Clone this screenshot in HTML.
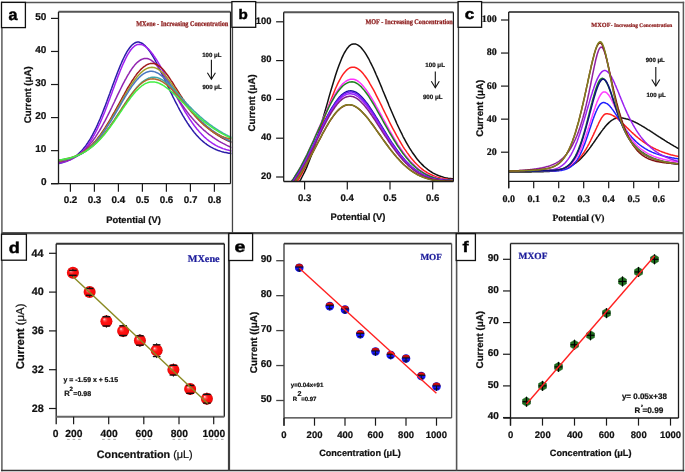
<!DOCTYPE html><html><head><meta charset="utf-8"><style>html,body{margin:0;padding:0;background:#fff;overflow:hidden;}svg{display:block;} text{text-rendering:geometricPrecision;}</style></head><body><svg width="685" height="472" viewBox="0 0 685 472" style="will-change:transform">
<defs>
<radialGradient id="rg" cx="0.5" cy="0.5" r="0.5" fx="0.3" fy="0.32"><stop offset="0" stop-color="#ffe0e0"/><stop offset="0.22" stop-color="#ff5050"/><stop offset="0.45" stop-color="#ff1414"/><stop offset="0.9" stop-color="#f80808"/><stop offset="1" stop-color="#c00000"/></radialGradient>
<clipPath id="cpa"><rect x="58.5" y="11.8" width="173" height="172.1"/></clipPath>
<clipPath id="cpb"><rect x="283.6" y="12.2" width="169.7" height="169.4"/></clipPath>
<clipPath id="cpc"><rect x="508.7" y="12" width="170.1" height="169.4"/></clipPath>
</defs>
<rect width="685" height="472" fill="#fff"/>
<line x1="1.10" y1="2.60" x2="684.20" y2="2.60" stroke="#555" stroke-width="1.5"/>
<line x1="1.90" y1="1.85" x2="1.90" y2="471.25" stroke="#666" stroke-width="1.6"/>
<line x1="683.40" y1="1.85" x2="683.40" y2="471.25" stroke="#5a5a5a" stroke-width="1.5"/>
<line x1="1.10" y1="470.50" x2="684.20" y2="470.50" stroke="#333" stroke-width="1.5"/>
<line x1="1.70" y1="233.10" x2="683.50" y2="233.10" stroke="#555" stroke-width="2.2"/>
<line x1="232.46" y1="2.60" x2="232.46" y2="233.10" stroke="#444" stroke-width="1.3"/>
<line x1="458.46" y1="2.60" x2="458.46" y2="233.10" stroke="#444" stroke-width="1.3"/>
<line x1="229.00" y1="233.10" x2="229.00" y2="470.50" stroke="#404040" stroke-width="2.2"/>
<line x1="456.60" y1="233.10" x2="456.60" y2="470.50" stroke="#555" stroke-width="1.6"/>
<rect x="1.50" y="2.40" width="23.90" height="25.20" fill="#fff" stroke="#111" stroke-width="1.3"/>
<text transform="translate(8.57,20.29) scale(1.002,1)" font-family="Liberation Sans" font-weight="bold" font-size="16.00" fill="#000" stroke="#000" stroke-width="0.50">a</text>
<rect x="231.90" y="1.60" width="23.80" height="25.70" fill="#fff" stroke="#111" stroke-width="1.3"/>
<text transform="translate(238.49,19.01) scale(1.110,1)" font-family="Liberation Sans" font-weight="bold" font-size="13.70" fill="#000" stroke="#000" stroke-width="0.45">b</text>
<rect x="458.10" y="1.60" width="23.50" height="25.70" fill="#fff" stroke="#111" stroke-width="1.3"/>
<text transform="translate(464.76,19.30) scale(1.164,1)" font-family="Liberation Sans" font-weight="bold" font-size="14.73" fill="#000" stroke="#000" stroke-width="0.43">c</text>
<rect x="1.50" y="234.20" width="24.90" height="26.00" fill="#fff" stroke="#111" stroke-width="1.3"/>
<text transform="translate(8.73,252.60) scale(1.165,1)" font-family="Liberation Sans" font-weight="bold" font-size="15.48" fill="#000" stroke="#000" stroke-width="0.43">d</text>
<rect x="228.80" y="233.50" width="23.80" height="27.00" fill="#fff" stroke="#111" stroke-width="1.3"/>
<text transform="translate(234.57,252.49) scale(1.224,1)" font-family="Liberation Sans" font-weight="bold" font-size="16.00" fill="#000" stroke="#000" stroke-width="0.41">e</text>
<rect x="456.20" y="233.70" width="19.20" height="26.80" fill="#fff" stroke="#111" stroke-width="1.3"/>
<text transform="translate(462.39,252.25) scale(1.186,1)" font-family="Liberation Sans" font-weight="bold" font-size="15.28" fill="#000" stroke="#000" stroke-width="0.42">f</text>
<g clip-path="url(#cpa)">
<path d="M57.9,163.7 58.9,163.5 59.8,163.3 60.8,163.1 61.8,162.8 62.7,162.5 63.7,162.2 64.6,161.9 65.6,161.6 66.6,161.2 67.5,160.8 68.5,160.4 69.4,160.0 70.4,159.5 71.4,159.0 72.3,158.4 73.3,157.8 74.2,157.2 75.2,156.5 76.2,155.8 77.1,155.0 78.1,154.2 79.0,153.3 80.0,152.4 81.0,151.4 81.9,150.4 82.9,149.3 83.8,148.1 84.8,146.9 85.8,145.7 86.7,144.3 87.7,142.9 88.6,141.4 89.6,139.9 90.6,138.3 91.5,136.6 92.5,134.9 93.4,133.0 94.4,131.2 95.4,129.2 96.3,127.2 97.3,125.1 98.2,123.0 99.2,120.8 100.2,118.5 101.1,116.2 102.1,113.8 103.0,111.4 104.0,108.9 105.0,106.4 105.9,103.9 106.9,101.3 107.8,98.7 108.8,96.1 109.8,93.5 110.7,90.8 111.7,88.2 112.6,85.6 113.6,82.9 114.6,80.3 115.5,77.8 116.5,75.2 117.4,72.7 118.4,70.3 119.4,67.9 120.3,65.5 121.3,63.3 122.2,61.1 123.2,59.0 124.2,57.0 125.1,55.1 126.1,53.3 127.0,51.7 128.0,50.1 129.0,48.7 129.9,47.4 130.9,46.2 131.8,45.2 132.8,44.3 133.8,43.6 134.7,43.0 135.7,42.5 136.6,42.2 137.6,42.1 138.6,42.1 139.5,42.3 140.5,42.6 141.4,43.0 142.4,43.5 143.4,44.2 144.3,45.0 145.3,45.9 146.2,46.9 147.2,48.0 148.2,49.2 149.1,50.5 150.1,51.9 151.0,53.4 152.0,54.9 153.0,56.5 153.9,58.2 154.9,59.9 155.8,61.7 156.8,63.5 157.8,65.4 158.7,67.3 159.7,69.2 160.6,71.1 161.6,73.1 162.6,75.1 163.5,77.1 164.5,79.1 165.4,81.1 166.4,83.1 167.4,85.1 168.3,87.1 169.3,89.1 170.2,91.1 171.2,93.1 172.2,95.1 173.1,97.1 174.1,99.0 175.0,100.9 176.0,102.8 177.0,104.7 177.9,106.5 178.9,108.3 179.8,110.1 180.8,111.9 181.8,113.6 182.7,115.3 183.7,116.9 184.6,118.5 185.6,120.1 186.6,121.6 187.5,123.1 188.5,124.5 189.4,126.0 190.4,127.3 191.4,128.6 192.3,129.9 193.3,131.2 194.2,132.4 195.2,133.5 196.2,134.7 197.1,135.7 198.1,136.8 199.0,137.8 200.0,138.7 201.0,139.7 201.9,140.5 202.9,141.4 203.8,142.2 204.8,143.0 205.8,143.7 206.7,144.4 207.7,145.1 208.6,145.7 209.6,146.3 210.6,146.9 211.5,147.4 212.5,147.9 213.4,148.4 214.4,148.9 215.4,149.3 216.3,149.7 217.3,150.1 218.2,150.5 219.2,150.8 220.2,151.1 221.1,151.4 222.1,151.7 223.0,151.9 224.0,152.2 225.0,152.4 225.9,152.6 226.9,152.8 227.8,153.0 228.8,153.2 229.8,153.3 230.7,153.5 231.7,153.6" fill="none" stroke="#2b1ca8" stroke-width="1.5" stroke-linejoin="round"/>
<path d="M57.9,163.3 58.9,163.1 59.8,162.9 60.8,162.7 61.8,162.5 62.7,162.3 63.7,162.1 64.6,161.8 65.6,161.5 66.6,161.2 67.5,160.9 68.5,160.5 69.4,160.1 70.4,159.7 71.4,159.3 72.3,158.8 73.3,158.3 74.2,157.8 75.2,157.2 76.2,156.5 77.1,155.9 78.1,155.2 79.0,154.4 80.0,153.6 81.0,152.8 81.9,151.9 82.9,150.9 83.8,149.9 84.8,148.8 85.8,147.7 86.7,146.5 87.7,145.2 88.6,143.9 89.6,142.5 90.6,141.0 91.5,139.5 92.5,137.9 93.4,136.2 94.4,134.5 95.4,132.7 96.3,130.8 97.3,128.9 98.2,126.9 99.2,124.8 100.2,122.7 101.1,120.5 102.1,118.2 103.0,115.9 104.0,113.6 105.0,111.2 105.9,108.7 106.9,106.2 107.8,103.7 108.8,101.1 109.8,98.6 110.7,96.0 111.7,93.4 112.6,90.8 113.6,88.2 114.6,85.5 115.5,83.0 116.5,80.4 117.4,77.9 118.4,75.4 119.4,72.9 120.3,70.5 121.3,68.2 122.2,65.9 123.2,63.7 124.2,61.6 125.1,59.6 126.1,57.7 127.0,55.9 128.0,54.2 129.0,52.6 129.9,51.2 130.9,49.8 131.8,48.7 132.8,47.6 133.8,46.7 134.7,45.9 135.7,45.3 136.6,44.8 137.6,44.5 138.6,44.4 139.5,44.3 140.5,44.4 141.4,44.6 142.4,44.9 143.4,45.3 144.3,45.8 145.3,46.5 146.2,47.2 147.2,48.0 148.2,48.9 149.1,49.8 150.1,50.9 151.0,52.0 152.0,53.3 153.0,54.5 153.9,55.9 154.9,57.3 155.8,58.7 156.8,60.2 157.8,61.8 158.7,63.4 159.7,65.0 160.6,66.7 161.6,68.4 162.6,70.1 163.5,71.9 164.5,73.6 165.4,75.4 166.4,77.2 167.4,79.1 168.3,80.9 169.3,82.7 170.2,84.6 171.2,86.4 172.2,88.3 173.1,90.1 174.1,91.9 175.0,93.7 176.0,95.6 177.0,97.3 177.9,99.1 178.9,100.9 179.8,102.6 180.8,104.4 181.8,106.1 182.7,107.7 183.7,109.4 184.6,111.0 185.6,112.6 186.6,114.2 187.5,115.7 188.5,117.2 189.4,118.7 190.4,120.1 191.4,121.5 192.3,122.9 193.3,124.2 194.2,125.5 195.2,126.8 196.2,128.0 197.1,129.2 198.1,130.3 199.0,131.4 200.0,132.5 201.0,133.5 201.9,134.6 202.9,135.5 203.8,136.5 204.8,137.4 205.8,138.2 206.7,139.0 207.7,139.8 208.6,140.6 209.6,141.3 210.6,142.0 211.5,142.7 212.5,143.3 213.4,143.9 214.4,144.5 215.4,145.1 216.3,145.6 217.3,146.1 218.2,146.6 219.2,147.0 220.2,147.4 221.1,147.8 222.1,148.2 223.0,148.6 224.0,148.9 225.0,149.2 225.9,149.5 226.9,149.8 227.8,150.0 228.8,150.3 229.8,150.5 230.7,150.7 231.7,150.9" fill="none" stroke="#a020f0" stroke-width="1.5" stroke-linejoin="round"/>
<path d="M57.9,162.5 58.9,162.3 59.8,162.1 60.8,162.0 61.8,161.8 62.7,161.6 63.7,161.3 64.6,161.1 65.6,160.8 66.6,160.5 67.5,160.2 68.5,159.9 69.4,159.6 70.4,159.2 71.4,158.8 72.3,158.4 73.3,157.9 74.2,157.4 75.2,156.9 76.2,156.4 77.1,155.8 78.1,155.2 79.0,154.5 80.0,153.8 81.0,153.1 81.9,152.4 82.9,151.6 83.8,150.7 84.8,149.8 85.8,148.9 86.7,147.9 87.7,146.9 88.6,145.9 89.6,144.7 90.6,143.6 91.5,142.4 92.5,141.2 93.4,139.9 94.4,138.5 95.4,137.1 96.3,135.7 97.3,134.2 98.2,132.7 99.2,131.2 100.2,129.5 101.1,127.9 102.1,126.2 103.0,124.5 104.0,122.7 105.0,120.9 105.9,119.1 106.9,117.2 107.8,115.3 108.8,113.4 109.8,111.4 110.7,109.5 111.7,107.5 112.6,105.5 113.6,103.5 114.6,101.5 115.5,99.4 116.5,97.4 117.4,95.4 118.4,93.4 119.4,91.4 120.3,89.5 121.3,87.5 122.2,85.6 123.2,83.7 124.2,81.8 125.1,80.0 126.1,78.3 127.0,76.6 128.0,74.9 129.0,73.3 129.9,71.7 130.9,70.3 131.8,68.9 132.8,67.5 133.8,66.3 134.7,65.1 135.7,64.0 136.6,63.0 137.6,62.1 138.6,61.3 139.5,60.6 140.5,60.0 141.4,59.5 142.4,59.1 143.4,58.7 144.3,58.5 145.3,58.4 146.2,58.4 147.2,58.5 148.2,58.8 149.1,59.1 150.1,59.6 151.0,60.1 152.0,60.8 153.0,61.6 153.9,62.4 154.9,63.4 155.8,64.4 156.8,65.5 157.8,66.7 158.7,68.0 159.7,69.3 160.6,70.7 161.6,72.1 162.6,73.6 163.5,75.1 164.5,76.6 165.4,78.2 166.4,79.7 167.4,81.3 168.3,82.9 169.3,84.5 170.2,86.1 171.2,87.7 172.2,89.3 173.1,90.9 174.1,92.5 175.0,94.0 176.0,95.6 177.0,97.1 177.9,98.6 178.9,100.1 179.8,101.6 180.8,103.0 181.8,104.4 182.7,105.8 183.7,107.2 184.6,108.5 185.6,109.8 186.6,111.1 187.5,112.4 188.5,113.6 189.4,114.9 190.4,116.0 191.4,117.2 192.3,118.3 193.3,119.4 194.2,120.5 195.2,121.6 196.2,122.6 197.1,123.6 198.1,124.6 199.0,125.6 200.0,126.5 201.0,127.4 201.9,128.3 202.9,129.2 203.8,130.1 204.8,130.9 205.8,131.7 206.7,132.5 207.7,133.3 208.6,134.1 209.6,134.8 210.6,135.5 211.5,136.2 212.5,136.9 213.4,137.6 214.4,138.2 215.4,138.9 216.3,139.5 217.3,140.1 218.2,140.7 219.2,141.3 220.2,141.8 221.1,142.4 222.1,142.9 223.0,143.4 224.0,143.9 225.0,144.4 225.9,144.9 226.9,145.4 227.8,145.8 228.8,146.3 229.8,146.7 230.7,147.2 231.7,147.6" fill="none" stroke="#9326b0" stroke-width="1.5" stroke-linejoin="round"/>
<path d="M57.9,161.4 58.9,161.3 59.8,161.1 60.8,161.0 61.8,160.8 62.7,160.6 63.7,160.4 64.6,160.2 65.6,160.0 66.6,159.8 67.5,159.5 68.5,159.2 69.4,158.9 70.4,158.6 71.4,158.3 72.3,157.9 73.3,157.6 74.2,157.2 75.2,156.7 76.2,156.3 77.1,155.8 78.1,155.3 79.0,154.8 80.0,154.3 81.0,153.7 81.9,153.1 82.9,152.4 83.8,151.8 84.8,151.1 85.8,150.3 86.7,149.5 87.7,148.7 88.6,147.9 89.6,147.0 90.6,146.1 91.5,145.2 92.5,144.2 93.4,143.2 94.4,142.1 95.4,141.0 96.3,139.9 97.3,138.7 98.2,137.5 99.2,136.2 100.2,134.9 101.1,133.6 102.1,132.2 103.0,130.9 104.0,129.4 105.0,128.0 105.9,126.5 106.9,124.9 107.8,123.4 108.8,121.8 109.8,120.2 110.7,118.6 111.7,116.9 112.6,115.2 113.6,113.5 114.6,111.8 115.5,110.1 116.5,108.3 117.4,106.6 118.4,104.8 119.4,103.0 120.3,101.3 121.3,99.5 122.2,97.8 123.2,96.0 124.2,94.3 125.1,92.6 126.1,90.9 127.0,89.2 128.0,87.5 129.0,85.9 129.9,84.3 130.9,82.8 131.8,81.2 132.8,79.8 133.8,78.3 134.7,76.9 135.7,75.6 136.6,74.3 137.6,73.1 138.6,72.0 139.5,70.9 140.5,69.8 141.4,68.9 142.4,68.0 143.4,67.2 144.3,66.4 145.3,65.8 146.2,65.2 147.2,64.7 148.2,64.2 149.1,63.9 150.1,63.6 151.0,63.5 152.0,63.4 153.0,63.4 153.9,63.5 154.9,63.7 155.8,64.0 156.8,64.5 157.8,65.0 158.7,65.6 159.7,66.3 160.6,67.1 161.6,68.0 162.6,69.0 163.5,70.1 164.5,71.2 165.4,72.4 166.4,73.7 167.4,75.0 168.3,76.3 169.3,77.7 170.2,79.1 171.2,80.6 172.2,82.0 173.1,83.5 174.1,85.1 175.0,86.6 176.0,88.1 177.0,89.6 177.9,91.1 178.9,92.7 179.8,94.2 180.8,95.7 181.8,97.1 182.7,98.6 183.7,100.0 184.6,101.5 185.6,102.9 186.6,104.2 187.5,105.6 188.5,106.9 189.4,108.2 190.4,109.5 191.4,110.8 192.3,112.0 193.3,113.2 194.2,114.3 195.2,115.5 196.2,116.6 197.1,117.7 198.1,118.7 199.0,119.8 200.0,120.8 201.0,121.8 201.9,122.7 202.9,123.6 203.8,124.6 204.8,125.4 205.8,126.3 206.7,127.1 207.7,127.9 208.6,128.7 209.6,129.5 210.6,130.2 211.5,131.0 212.5,131.7 213.4,132.4 214.4,133.0 215.4,133.7 216.3,134.3 217.3,135.0 218.2,135.6 219.2,136.1 220.2,136.7 221.1,137.3 222.1,137.8 223.0,138.3 224.0,138.8 225.0,139.3 225.9,139.8 226.9,140.3 227.8,140.7 228.8,141.2 229.8,141.6 230.7,142.1 231.7,142.5" fill="none" stroke="#a01a1a" stroke-width="1.5" stroke-linejoin="round"/>
<path d="M57.9,161.1 58.9,161.0 59.8,160.8 60.8,160.7 61.8,160.5 62.7,160.3 63.7,160.2 64.6,160.0 65.6,159.8 66.6,159.5 67.5,159.3 68.5,159.0 69.4,158.7 70.4,158.5 71.4,158.1 72.3,157.8 73.3,157.5 74.2,157.1 75.2,156.7 76.2,156.3 77.1,155.8 78.1,155.3 79.0,154.8 80.0,154.3 81.0,153.8 81.9,153.2 82.9,152.6 83.8,151.9 84.8,151.3 85.8,150.6 86.7,149.8 87.7,149.1 88.6,148.3 89.6,147.4 90.6,146.6 91.5,145.6 92.5,144.7 93.4,143.7 94.4,142.7 95.4,141.6 96.3,140.6 97.3,139.4 98.2,138.3 99.2,137.1 100.2,135.8 101.1,134.6 102.1,133.2 103.0,131.9 104.0,130.5 105.0,129.1 105.9,127.7 106.9,126.2 107.8,124.7 108.8,123.2 109.8,121.6 110.7,120.0 111.7,118.4 112.6,116.8 113.6,115.2 114.6,113.5 115.5,111.8 116.5,110.2 117.4,108.5 118.4,106.8 119.4,105.1 120.3,103.4 121.3,101.7 122.2,100.0 123.2,98.3 124.2,96.6 125.1,95.0 126.1,93.3 127.0,91.7 128.0,90.1 129.0,88.6 129.9,87.0 130.9,85.5 131.8,84.1 132.8,82.7 133.8,81.3 134.7,80.0 135.7,78.7 136.6,77.5 137.6,76.3 138.6,75.2 139.5,74.2 140.5,73.2 141.4,72.3 142.4,71.5 143.4,70.7 144.3,70.0 145.3,69.4 146.2,68.9 147.2,68.4 148.2,68.0 149.1,67.7 150.1,67.5 151.0,67.4 152.0,67.3 153.0,67.4 153.9,67.5 154.9,67.8 155.8,68.1 156.8,68.5 157.8,69.0 158.7,69.6 159.7,70.3 160.6,71.1 161.6,71.9 162.6,72.8 163.5,73.8 164.5,74.8 165.4,75.9 166.4,77.1 167.4,78.2 168.3,79.5 169.3,80.7 170.2,82.0 171.2,83.4 172.2,84.7 173.1,86.1 174.1,87.5 175.0,88.9 176.0,90.3 177.0,91.7 177.9,93.1 178.9,94.4 179.8,95.8 180.8,97.2 181.8,98.6 182.7,99.9 183.7,101.3 184.6,102.6 185.6,103.9 186.6,105.2 187.5,106.4 188.5,107.7 189.4,108.9 190.4,110.1 191.4,111.2 192.3,112.4 193.3,113.5 194.2,114.6 195.2,115.7 196.2,116.7 197.1,117.7 198.1,118.7 199.0,119.7 200.0,120.7 201.0,121.6 201.9,122.5 202.9,123.4 203.8,124.2 204.8,125.1 205.8,125.9 206.7,126.7 207.7,127.5 208.6,128.2 209.6,129.0 210.6,129.7 211.5,130.4 212.5,131.0 213.4,131.7 214.4,132.4 215.4,133.0 216.3,133.6 217.3,134.2 218.2,134.8 219.2,135.3 220.2,135.9 221.1,136.4 222.1,136.9 223.0,137.4 224.0,137.9 225.0,138.4 225.9,138.9 226.9,139.3 227.8,139.8 228.8,140.2 229.8,140.6 230.7,141.1 231.7,141.5" fill="none" stroke="#a0a028" stroke-width="1.5" stroke-linejoin="round"/>
<path d="M57.9,160.9 58.9,160.7 59.8,160.6 60.8,160.5 61.8,160.4 62.7,160.2 63.7,160.0 64.6,159.9 65.6,159.7 66.6,159.5 67.5,159.3 68.5,159.0 69.4,158.8 70.4,158.5 71.4,158.2 72.3,157.9 73.3,157.6 74.2,157.2 75.2,156.9 76.2,156.5 77.1,156.0 78.1,155.6 79.0,155.1 80.0,154.6 81.0,154.1 81.9,153.6 82.9,153.0 83.8,152.4 84.8,151.7 85.8,151.1 86.7,150.4 87.7,149.6 88.6,148.8 89.6,148.0 90.6,147.2 91.5,146.3 92.5,145.4 93.4,144.5 94.4,143.5 95.4,142.5 96.3,141.4 97.3,140.3 98.2,139.2 99.2,138.0 100.2,136.8 101.1,135.6 102.1,134.3 103.0,133.0 104.0,131.6 105.0,130.2 105.9,128.8 106.9,127.4 107.8,125.9 108.8,124.4 109.8,122.9 110.7,121.4 111.7,119.8 112.6,118.2 113.6,116.6 114.6,115.0 115.5,113.4 116.5,111.7 117.4,110.1 118.4,108.4 119.4,106.8 120.3,105.1 121.3,103.5 122.2,101.8 123.2,100.2 124.2,98.5 125.1,96.9 126.1,95.4 127.0,93.8 128.0,92.3 129.0,90.7 129.9,89.3 130.9,87.8 131.8,86.4 132.8,85.1 133.8,83.8 134.7,82.5 135.7,81.3 136.6,80.2 137.6,79.1 138.6,78.1 139.5,77.1 140.5,76.2 141.4,75.4 142.4,74.6 143.4,73.9 144.3,73.3 145.3,72.8 146.2,72.4 147.2,72.0 148.2,71.7 149.1,71.5 150.1,71.3 151.0,71.3 152.0,71.3 153.0,71.5 153.9,71.6 154.9,71.9 155.8,72.3 156.8,72.7 157.8,73.2 158.7,73.7 159.7,74.4 160.6,75.1 161.6,75.8 162.6,76.6 163.5,77.5 164.5,78.4 165.4,79.4 166.4,80.4 167.4,81.4 168.3,82.5 169.3,83.6 170.2,84.7 171.2,85.9 172.2,87.1 173.1,88.3 174.1,89.5 175.0,90.7 176.0,91.9 177.0,93.2 177.9,94.4 178.9,95.6 179.8,96.9 180.8,98.1 181.8,99.3 182.7,100.5 183.7,101.7 184.6,102.9 185.6,104.1 186.6,105.3 187.5,106.4 188.5,107.6 189.4,108.7 190.4,109.8 191.4,110.9 192.3,112.0 193.3,113.0 194.2,114.1 195.2,115.1 196.2,116.1 197.1,117.1 198.1,118.1 199.0,119.0 200.0,119.9 201.0,120.9 201.9,121.8 202.9,122.6 203.8,123.5 204.8,124.3 205.8,125.2 206.7,126.0 207.7,126.8 208.6,127.5 209.6,128.3 210.6,129.0 211.5,129.8 212.5,130.5 213.4,131.2 214.4,131.9 215.4,132.5 216.3,133.2 217.3,133.8 218.2,134.4 219.2,135.0 220.2,135.6 221.1,136.2 222.1,136.8 223.0,137.4 224.0,137.9 225.0,138.4 225.9,139.0 226.9,139.5 227.8,140.0 228.8,140.5 229.8,140.9 230.7,141.4 231.7,141.9" fill="none" stroke="#4a78c0" stroke-width="1.5" stroke-linejoin="round"/>
<path d="M57.9,160.4 58.9,160.2 59.8,160.1 60.8,160.0 61.8,159.8 62.7,159.6 63.7,159.5 64.6,159.3 65.6,159.1 66.6,158.9 67.5,158.7 68.5,158.4 69.4,158.2 70.4,157.9 71.4,157.6 72.3,157.4 73.3,157.0 74.2,156.7 75.2,156.4 76.2,156.0 77.1,155.6 78.1,155.2 79.0,154.8 80.0,154.3 81.0,153.9 81.9,153.4 82.9,152.9 83.8,152.3 84.8,151.8 85.8,151.2 86.7,150.5 87.7,149.9 88.6,149.2 89.6,148.5 90.6,147.7 91.5,147.0 92.5,146.2 93.4,145.4 94.4,144.5 95.4,143.6 96.3,142.7 97.3,141.7 98.2,140.7 99.2,139.7 100.2,138.7 101.1,137.6 102.1,136.5 103.0,135.3 104.0,134.2 105.0,133.0 105.9,131.7 106.9,130.5 107.8,129.2 108.8,127.9 109.8,126.6 110.7,125.2 111.7,123.8 112.6,122.4 113.6,121.0 114.6,119.6 115.5,118.1 116.5,116.7 117.4,115.2 118.4,113.7 119.4,112.3 120.3,110.8 121.3,109.3 122.2,107.8 123.2,106.3 124.2,104.9 125.1,103.4 126.1,102.0 127.0,100.5 128.0,99.1 129.0,97.7 129.9,96.3 130.9,95.0 131.8,93.7 132.8,92.4 133.8,91.1 134.7,89.9 135.7,88.8 136.6,87.6 137.6,86.6 138.6,85.5 139.5,84.5 140.5,83.6 141.4,82.7 142.4,81.9 143.4,81.2 144.3,80.5 145.3,79.8 146.2,79.3 147.2,78.8 148.2,78.3 149.1,78.0 150.1,77.7 151.0,77.4 152.0,77.3 153.0,77.2 153.9,77.2 154.9,77.2 155.8,77.4 156.8,77.6 157.8,77.8 158.7,78.1 159.7,78.5 160.6,79.0 161.6,79.5 162.6,80.0 163.5,80.6 164.5,81.3 165.4,82.0 166.4,82.8 167.4,83.6 168.3,84.4 169.3,85.3 170.2,86.2 171.2,87.1 172.2,88.0 173.1,89.0 174.1,90.0 175.0,91.0 176.0,92.0 177.0,93.0 177.9,94.1 178.9,95.1 179.8,96.1 180.8,97.2 181.8,98.2 182.7,99.3 183.7,100.3 184.6,101.3 185.6,102.3 186.6,103.4 187.5,104.4 188.5,105.4 189.4,106.4 190.4,107.3 191.4,108.3 192.3,109.3 193.3,110.2 194.2,111.2 195.2,112.1 196.2,113.0 197.1,113.9 198.1,114.8 199.0,115.6 200.0,116.5 201.0,117.3 201.9,118.2 202.9,119.0 203.8,119.8 204.8,120.6 205.8,121.4 206.7,122.1 207.7,122.9 208.6,123.6 209.6,124.3 210.6,125.0 211.5,125.7 212.5,126.4 213.4,127.1 214.4,127.7 215.4,128.4 216.3,129.0 217.3,129.6 218.2,130.2 219.2,130.8 220.2,131.4 221.1,132.0 222.1,132.5 223.0,133.1 224.0,133.6 225.0,134.1 225.9,134.6 226.9,135.1 227.8,135.6 228.8,136.1 229.8,136.6 230.7,137.0 231.7,137.5" fill="none" stroke="#40a8a8" stroke-width="1.5" stroke-linejoin="round"/>
<path d="M57.9,160.6 58.9,160.4 59.8,160.2 60.8,160.1 61.8,159.9 62.7,159.7 63.7,159.5 64.6,159.2 65.6,159.0 66.6,158.8 67.5,158.5 68.5,158.3 69.4,158.0 70.4,157.7 71.4,157.5 72.3,157.2 73.3,156.8 74.2,156.5 75.2,156.1 76.2,155.8 77.1,155.4 78.1,155.0 79.0,154.6 80.0,154.1 81.0,153.6 81.9,153.2 82.9,152.6 83.8,152.1 84.8,151.5 85.8,151.0 86.7,150.3 87.7,149.7 88.6,149.0 89.6,148.3 90.6,147.6 91.5,146.9 92.5,146.1 93.4,145.3 94.4,144.4 95.4,143.5 96.3,142.6 97.3,141.7 98.2,140.7 99.2,139.7 100.2,138.7 101.1,137.6 102.1,136.5 103.0,135.4 104.0,134.2 105.0,133.0 105.9,131.8 106.9,130.6 107.8,129.3 108.8,128.0 109.8,126.6 110.7,125.3 111.7,123.9 112.6,122.5 113.6,121.1 114.6,119.7 115.5,118.2 116.5,116.8 117.4,115.3 118.4,113.8 119.4,112.4 120.3,110.9 121.3,109.4 122.2,107.9 123.2,106.4 124.2,105.0 125.1,103.5 126.1,102.1 127.0,100.6 128.0,99.2 129.0,97.8 129.9,96.5 130.9,95.2 131.8,93.9 132.8,92.6 133.8,91.4 134.7,90.2 135.7,89.1 136.6,88.0 137.6,87.0 138.6,86.0 139.5,85.0 140.5,84.2 141.4,83.4 142.4,82.6 143.4,81.9 144.3,81.3 145.3,80.8 146.2,80.3 147.2,79.9 148.2,79.5 149.1,79.3 150.1,79.0 151.0,78.9 152.0,78.9 153.0,78.8 153.9,78.9 154.9,79.0 155.8,79.2 156.8,79.4 157.8,79.7 158.7,80.0 159.7,80.4 160.6,80.8 161.6,81.3 162.6,81.9 163.5,82.5 164.5,83.1 165.4,83.8 166.4,84.5 167.4,85.3 168.3,86.1 169.3,87.0 170.2,87.8 171.2,88.8 172.2,89.7 173.1,90.7 174.1,91.7 175.0,92.7 176.0,93.8 177.0,94.8 177.9,95.9 178.9,97.0 179.8,98.2 180.8,99.3 181.8,100.4 182.7,101.6 183.7,102.7 184.6,103.9 185.6,105.0 186.6,106.2 187.5,107.3 188.5,108.5 189.4,109.6 190.4,110.7 191.4,111.9 192.3,113.0 193.3,114.1 194.2,115.1 195.2,116.2 196.2,117.2 197.1,118.2 198.1,119.2 199.0,120.2 200.0,121.2 201.0,122.1 201.9,123.0 202.9,123.9 203.8,124.8 204.8,125.6 205.8,126.4 206.7,127.2 207.7,128.0 208.6,128.7 209.6,129.4 210.6,130.1 211.5,130.8 212.5,131.4 213.4,132.0 214.4,132.6 215.4,133.2 216.3,133.7 217.3,134.2 218.2,134.7 219.2,135.1 220.2,135.6 221.1,136.0 222.1,136.4 223.0,136.7 224.0,137.1 225.0,137.4 225.9,137.7 226.9,138.0 227.8,138.2 228.8,138.5 229.8,138.7 230.7,138.9 231.7,139.1" fill="none" stroke="#b0682a" stroke-width="1.5" stroke-linejoin="round"/>
<path d="M57.9,160.1 58.9,160.0 59.8,159.9 60.8,159.7 61.8,159.6 62.7,159.4 63.7,159.2 64.6,159.0 65.6,158.9 66.6,158.6 67.5,158.4 68.5,158.2 69.4,158.0 70.4,157.7 71.4,157.4 72.3,157.2 73.3,156.9 74.2,156.5 75.2,156.2 76.2,155.9 77.1,155.5 78.1,155.1 79.0,154.7 80.0,154.3 81.0,153.8 81.9,153.3 82.9,152.8 83.8,152.3 84.8,151.8 85.8,151.2 86.7,150.6 87.7,150.0 88.6,149.3 89.6,148.6 90.6,147.9 91.5,147.2 92.5,146.4 93.4,145.6 94.4,144.8 95.4,143.9 96.3,143.1 97.3,142.1 98.2,141.2 99.2,140.2 100.2,139.2 101.1,138.2 102.1,137.1 103.0,136.0 104.0,134.9 105.0,133.7 105.9,132.5 106.9,131.3 107.8,130.1 108.8,128.8 109.8,127.5 110.7,126.2 111.7,124.9 112.6,123.6 113.6,122.2 114.6,120.8 115.5,119.4 116.5,118.0 117.4,116.6 118.4,115.2 119.4,113.8 120.3,112.4 121.3,111.0 122.2,109.5 123.2,108.1 124.2,106.7 125.1,105.3 126.1,104.0 127.0,102.6 128.0,101.3 129.0,100.0 129.9,98.7 130.9,97.4 131.8,96.2 132.8,95.0 133.8,93.8 134.7,92.7 135.7,91.6 136.6,90.6 137.6,89.6 138.6,88.7 139.5,87.8 140.5,87.0 141.4,86.2 142.4,85.5 143.4,84.8 144.3,84.2 145.3,83.7 146.2,83.2 147.2,82.9 148.2,82.5 149.1,82.3 150.1,82.1 151.0,81.9 152.0,81.9 153.0,81.9 153.9,81.9 154.9,82.1 155.8,82.2 156.8,82.5 157.8,82.8 158.7,83.1 159.7,83.5 160.6,84.0 161.6,84.5 162.6,85.0 163.5,85.6 164.5,86.2 165.4,86.9 166.4,87.6 167.4,88.3 168.3,89.1 169.3,89.9 170.2,90.7 171.2,91.5 172.2,92.4 173.1,93.2 174.1,94.1 175.0,95.0 176.0,95.9 177.0,96.8 177.9,97.7 178.9,98.7 179.8,99.6 180.8,100.5 181.8,101.4 182.7,102.4 183.7,103.3 184.6,104.2 185.6,105.2 186.6,106.1 187.5,107.0 188.5,107.9 189.4,108.8 190.4,109.7 191.4,110.6 192.3,111.5 193.3,112.4 194.2,113.2 195.2,114.1 196.2,114.9 197.1,115.8 198.1,116.6 199.0,117.4 200.0,118.2 201.0,119.0 201.9,119.8 202.9,120.6 203.8,121.4 204.8,122.1 205.8,122.9 206.7,123.6 207.7,124.3 208.6,125.0 209.6,125.7 210.6,126.4 211.5,127.1 212.5,127.7 213.4,128.4 214.4,129.0 215.4,129.6 216.3,130.2 217.3,130.8 218.2,131.4 219.2,132.0 220.2,132.5 221.1,133.1 222.1,133.6 223.0,134.1 224.0,134.6 225.0,135.1 225.9,135.6 226.9,136.1 227.8,136.5 228.8,137.0 229.8,137.4 230.7,137.8 231.7,138.2" fill="none" stroke="#44ee44" stroke-width="1.5" stroke-linejoin="round"/>
</g>
<line x1="58.50" y1="11.80" x2="230.50" y2="11.80" stroke="#555" stroke-width="2.0"/>
<line x1="230.50" y1="11.80" x2="230.50" y2="183.70" stroke="#1a1a1a" stroke-width="1.2"/>
<line x1="58.50" y1="11.80" x2="58.50" y2="183.70" stroke="#1a1a1a" stroke-width="1.3"/>
<line x1="51.00" y1="183.70" x2="230.50" y2="183.70" stroke="#1a1a1a" stroke-width="1.3"/>
<line x1="51.00" y1="183.70" x2="58.50" y2="183.70" stroke="#1a1a1a" stroke-width="1.2"/>
<text x="40.90" y="185.35" font-family="Liberation Sans" font-weight="bold" font-size="10.00" fill="#111" stroke="#111" stroke-width="0.22" >0</text>
<line x1="51.00" y1="150.64" x2="58.50" y2="150.64" stroke="#1a1a1a" stroke-width="1.2"/>
<text x="35.30" y="152.29" font-family="Liberation Sans" font-weight="bold" font-size="10.00" fill="#111" stroke="#111" stroke-width="0.22" >10</text>
<line x1="51.00" y1="117.58" x2="58.50" y2="117.58" stroke="#1a1a1a" stroke-width="1.2"/>
<text x="35.30" y="119.23" font-family="Liberation Sans" font-weight="bold" font-size="10.00" fill="#111" stroke="#111" stroke-width="0.22" >20</text>
<line x1="51.00" y1="84.52" x2="58.50" y2="84.52" stroke="#1a1a1a" stroke-width="1.2"/>
<text x="35.30" y="86.17" font-family="Liberation Sans" font-weight="bold" font-size="10.00" fill="#111" stroke="#111" stroke-width="0.22" >30</text>
<line x1="51.00" y1="51.46" x2="58.50" y2="51.46" stroke="#1a1a1a" stroke-width="1.2"/>
<text x="35.30" y="53.11" font-family="Liberation Sans" font-weight="bold" font-size="10.00" fill="#111" stroke="#111" stroke-width="0.22" >40</text>
<line x1="51.00" y1="18.40" x2="58.50" y2="18.40" stroke="#1a1a1a" stroke-width="1.2"/>
<text x="35.30" y="20.05" font-family="Liberation Sans" font-weight="bold" font-size="10.00" fill="#111" stroke="#111" stroke-width="0.22" >50</text>
<line x1="70.40" y1="183.70" x2="70.40" y2="191.80" stroke="#1a1a1a" stroke-width="1.2"/>
<text x="63.69" y="202.90" font-family="Liberation Sans" font-weight="bold" font-size="9.80" fill="#111" stroke="#111" stroke-width="0.22" >0.2</text>
<line x1="94.40" y1="183.70" x2="94.40" y2="191.80" stroke="#1a1a1a" stroke-width="1.2"/>
<text x="87.69" y="202.90" font-family="Liberation Sans" font-weight="bold" font-size="9.80" fill="#111" stroke="#111" stroke-width="0.22" >0.3</text>
<line x1="118.40" y1="183.70" x2="118.40" y2="191.80" stroke="#1a1a1a" stroke-width="1.2"/>
<text x="111.54" y="202.90" font-family="Liberation Sans" font-weight="bold" font-size="9.80" fill="#111" stroke="#111" stroke-width="0.22" >0.4</text>
<line x1="142.40" y1="183.70" x2="142.40" y2="191.80" stroke="#1a1a1a" stroke-width="1.2"/>
<text x="135.64" y="202.90" font-family="Liberation Sans" font-weight="bold" font-size="9.80" fill="#111" stroke="#111" stroke-width="0.22" >0.5</text>
<line x1="166.40" y1="183.70" x2="166.40" y2="191.80" stroke="#1a1a1a" stroke-width="1.2"/>
<text x="159.69" y="202.90" font-family="Liberation Sans" font-weight="bold" font-size="9.80" fill="#111" stroke="#111" stroke-width="0.22" >0.6</text>
<line x1="190.40" y1="183.70" x2="190.40" y2="191.80" stroke="#1a1a1a" stroke-width="1.2"/>
<text x="183.74" y="202.90" font-family="Liberation Sans" font-weight="bold" font-size="9.80" fill="#111" stroke="#111" stroke-width="0.22" >0.7</text>
<line x1="214.40" y1="183.70" x2="214.40" y2="191.80" stroke="#1a1a1a" stroke-width="1.2"/>
<text x="207.64" y="202.90" font-family="Liberation Sans" font-weight="bold" font-size="9.80" fill="#111" stroke="#111" stroke-width="0.22" >0.8</text>
<text x="106.25" y="222.60" font-family="Liberation Sans" font-weight="bold" font-size="9.35" fill="#111" stroke="#111" stroke-width="0.22" >Potential (V)</text>
<text transform="translate(30.60,123.29) rotate(-90)" font-family="Liberation Sans" font-weight="bold" font-size="9.69" fill="#111" stroke="#111" stroke-width="0.22">Current (&#956;A)</text>
<text transform="translate(136.18,25.80) scale(0.863,1)" font-family="Liberation Serif" font-weight="bold" font-size="7.20" fill="#8b1a1a" stroke="#8b1a1a" stroke-width="0.25">MXene - Increasing Concentration</text>
<text x="202.24" y="56.90" font-family="Liberation Sans" font-weight="bold" font-size="6.07" fill="#111" stroke="#111" stroke-width="0.22" >100 &#956;L</text>
<text x="202.42" y="88.60" font-family="Liberation Sans" font-weight="bold" font-size="6.08" fill="#111" stroke="#111" stroke-width="0.22" >900 &#956;L</text>
<line x1="211.40" y1="59.80" x2="211.40" y2="78.90" stroke="#111" stroke-width="1.1"/>
<path d="M207.40,72.70 L211.40,79.20 L215.40,72.70" fill="none" stroke="#111" stroke-width="1.1"/>
<g clip-path="url(#cpb)">
<path d="M279.0,201.7 280.3,201.1 281.5,200.4 282.8,199.6 284.1,198.8 285.4,197.9 286.7,196.9 287.9,195.9 289.2,194.7 290.5,193.5 291.8,192.1 293.1,190.7 294.4,189.1 295.6,187.4 296.9,185.6 298.2,183.7 299.5,181.6 300.8,179.4 302.0,177.0 303.3,174.5 304.6,171.9 305.9,169.1 307.2,166.1 308.4,163.0 309.7,159.7 311.0,156.3 312.3,152.8 313.6,149.1 314.8,145.2 316.1,141.3 317.4,137.2 318.7,133.0 320.0,128.7 321.3,124.4 322.5,119.9 323.8,115.5 325.1,111.0 326.4,106.4 327.7,101.9 328.9,97.4 330.2,92.9 331.5,88.5 332.8,84.2 334.1,80.0 335.3,76.0 336.6,72.0 337.9,68.3 339.2,64.8 340.5,61.5 341.7,58.4 343.0,55.6 344.3,53.0 345.6,50.8 346.9,48.8 348.2,47.2 349.4,45.8 350.7,44.9 352.0,44.2 353.3,43.9 354.6,43.9 355.8,44.1 357.1,44.6 358.4,45.4 359.7,46.3 361.0,47.5 362.2,49.0 363.5,50.6 364.8,52.4 366.1,54.4 367.4,56.6 368.7,58.8 369.9,61.3 371.2,63.8 372.5,66.5 373.8,69.2 375.1,72.1 376.3,75.0 377.6,77.9 378.9,80.9 380.2,84.0 381.5,87.1 382.7,90.2 384.0,93.3 385.3,96.4 386.6,99.5 387.9,102.6 389.1,105.7 390.4,108.8 391.7,111.8 393.0,114.8 394.3,117.7 395.6,120.6 396.8,123.5 398.1,126.3 399.4,129.0 400.7,131.7 402.0,134.2 403.2,136.8 404.5,139.2 405.8,141.6 407.1,143.9 408.4,146.1 409.6,148.2 410.9,150.2 412.2,152.2 413.5,154.0 414.8,155.8 416.0,157.5 417.3,159.2 418.6,160.7 419.9,162.2 421.2,163.6 422.5,164.9 423.7,166.1 425.0,167.2 426.3,168.3 427.6,169.4 428.9,170.3 430.1,171.2 431.4,172.0 432.7,172.8 434.0,173.5 435.3,174.1 436.5,174.7 437.8,175.3 439.1,175.8 440.4,176.2 441.7,176.6 442.9,177.0 444.2,177.4 445.5,177.7 446.8,177.9 448.1,178.2 449.4,178.4 450.6,178.5 451.9,178.7 453.2,178.8 454.5,178.9 455.8,179.0 457.0,179.1" fill="none" stroke="#111111" stroke-width="1.5" stroke-linejoin="round"/>
<path d="M279.0,199.9 280.3,199.1 281.5,198.3 282.8,197.3 284.1,196.4 285.4,195.3 286.7,194.2 287.9,193.0 289.2,191.7 290.5,190.3 291.8,188.8 293.1,187.3 294.4,185.6 295.6,183.8 296.9,182.0 298.2,180.0 299.5,177.9 300.8,175.7 302.0,173.4 303.3,170.9 304.6,168.4 305.9,165.7 307.2,163.0 308.4,160.1 309.7,157.1 311.0,154.0 312.3,150.9 313.6,147.6 314.8,144.3 316.1,140.9 317.4,137.4 318.7,133.9 320.0,130.3 321.3,126.7 322.5,123.1 323.8,119.5 325.1,115.9 326.4,112.3 327.7,108.7 328.9,105.2 330.2,101.8 331.5,98.4 332.8,95.2 334.1,92.0 335.3,89.0 336.6,86.2 337.9,83.4 339.2,80.9 340.5,78.5 341.7,76.4 343.0,74.4 344.3,72.7 345.6,71.2 346.9,69.9 348.2,68.8 349.4,68.0 350.7,67.5 352.0,67.2 353.3,67.2 354.6,67.3 355.8,67.7 357.1,68.3 358.4,69.1 359.7,70.1 361.0,71.2 362.2,72.6 363.5,74.1 364.8,75.7 366.1,77.5 367.4,79.4 368.7,81.4 369.9,83.6 371.2,85.8 372.5,88.1 373.8,90.4 375.1,92.9 376.3,95.3 377.6,97.9 378.9,100.4 380.2,103.0 381.5,105.6 382.7,108.2 384.0,110.9 385.3,113.5 386.6,116.1 387.9,118.7 389.1,121.2 390.4,123.8 391.7,126.3 393.0,128.8 394.3,131.2 395.6,133.6 396.8,135.9 398.1,138.2 399.4,140.5 400.7,142.6 402.0,144.8 403.2,146.8 404.5,148.8 405.8,150.7 407.1,152.6 408.4,154.3 409.6,156.0 410.9,157.7 412.2,159.3 413.5,160.7 414.8,162.2 416.0,163.5 417.3,164.8 418.6,166.0 419.9,167.2 421.2,168.3 422.5,169.3 423.7,170.3 425.0,171.2 426.3,172.0 427.6,172.8 428.9,173.5 430.1,174.2 431.4,174.8 432.7,175.4 434.0,175.9 435.3,176.4 436.5,176.9 437.8,177.3 439.1,177.6 440.4,178.0 441.7,178.3 442.9,178.5 444.2,178.8 445.5,179.0 446.8,179.1 448.1,179.3 449.4,179.4 450.6,179.5 451.9,179.6 453.2,179.7 454.5,179.7 455.8,179.7 457.0,179.7" fill="none" stroke="#ff2020" stroke-width="1.5" stroke-linejoin="round"/>
<path d="M279.0,194.9 280.3,193.8 281.5,192.6 282.8,191.4 284.1,190.1 285.4,188.8 286.7,187.4 287.9,185.9 289.2,184.3 290.5,182.6 291.8,180.9 293.1,179.1 294.4,177.2 295.6,175.2 296.9,173.2 298.2,171.0 299.5,168.8 300.8,166.5 302.0,164.2 303.3,161.8 304.6,159.2 305.9,156.7 307.2,154.0 308.4,151.4 309.7,148.6 311.0,145.8 312.3,143.0 313.6,140.1 314.8,137.2 316.1,134.3 317.4,131.4 318.7,128.4 320.0,125.5 321.3,122.6 322.5,119.7 323.8,116.8 325.1,114.0 326.4,111.2 327.7,108.4 328.9,105.8 330.2,103.2 331.5,100.7 332.8,98.3 334.1,96.0 335.3,93.8 336.6,91.8 337.9,89.9 339.2,88.1 340.5,86.4 341.7,85.0 343.0,83.6 344.3,82.5 345.6,81.5 346.9,80.7 348.2,80.0 349.4,79.6 350.7,79.3 352.0,79.2 353.3,79.3 354.6,79.5 355.8,80.0 357.1,80.7 358.4,81.5 359.7,82.5 361.0,83.7 362.2,85.0 363.5,86.5 364.8,88.1 366.1,89.8 367.4,91.6 368.7,93.5 369.9,95.5 371.2,97.5 372.5,99.6 373.8,101.8 375.1,104.0 376.3,106.3 377.6,108.6 378.9,110.9 380.2,113.3 381.5,115.6 382.7,118.0 384.0,120.4 385.3,122.7 386.6,125.0 387.9,127.4 389.1,129.7 390.4,131.9 391.7,134.2 393.0,136.4 394.3,138.6 395.6,140.7 396.8,142.7 398.1,144.8 399.4,146.7 400.7,148.7 402.0,150.5 403.2,152.3 404.5,154.0 405.8,155.7 407.1,157.3 408.4,158.9 409.6,160.4 410.9,161.8 412.2,163.1 413.5,164.4 414.8,165.7 416.0,166.8 417.3,167.9 418.6,169.0 419.9,170.0 421.2,170.9 422.5,171.8 423.7,172.6 425.0,173.3 426.3,174.0 427.6,174.7 428.9,175.3 430.1,175.9 431.4,176.4 432.7,176.9 434.0,177.3 435.3,177.7 436.5,178.0 437.8,178.4 439.1,178.7 440.4,178.9 441.7,179.1 442.9,179.3 444.2,179.5 445.5,179.7 446.8,179.8 448.1,179.9 449.4,180.0 450.6,180.0 451.9,180.1 453.2,180.1 454.5,180.1 455.8,180.1 457.0,180.1" fill="none" stroke="#ff30ff" stroke-width="1.5" stroke-linejoin="round"/>
<path d="M279.0,194.8 280.3,193.7 281.5,192.6 282.8,191.4 284.1,190.1 285.4,188.7 286.7,187.3 287.9,185.8 289.2,184.2 290.5,182.6 291.8,180.9 293.1,179.1 294.4,177.2 295.6,175.2 296.9,173.2 298.2,171.1 299.5,168.9 300.8,166.6 302.0,164.3 303.3,161.9 304.6,159.4 305.9,156.9 307.2,154.3 308.4,151.6 309.7,148.9 311.0,146.2 312.3,143.4 313.6,140.6 314.8,137.7 316.1,134.9 317.4,132.0 318.7,129.1 320.0,126.3 321.3,123.4 322.5,120.6 323.8,117.8 325.1,115.0 326.4,112.3 327.7,109.6 328.9,107.1 330.2,104.6 331.5,102.1 332.8,99.8 334.1,97.6 335.3,95.5 336.6,93.6 337.9,91.7 339.2,90.0 340.5,88.5 341.7,87.1 343.0,85.8 344.3,84.7 345.6,83.8 346.9,83.1 348.2,82.5 349.4,82.1 350.7,81.9 352.0,81.8 353.3,82.0 354.6,82.3 355.8,82.8 357.1,83.5 358.4,84.4 359.7,85.5 361.0,86.6 362.2,88.0 363.5,89.4 364.8,91.0 366.1,92.7 367.4,94.5 368.7,96.4 369.9,98.3 371.2,100.4 372.5,102.5 373.8,104.6 375.1,106.8 376.3,109.0 377.6,111.3 378.9,113.6 380.2,115.9 381.5,118.2 382.7,120.5 384.0,122.8 385.3,125.1 386.6,127.3 387.9,129.6 389.1,131.8 390.4,134.0 391.7,136.2 393.0,138.4 394.3,140.5 395.6,142.5 396.8,144.5 398.1,146.5 399.4,148.4 400.7,150.2 402.0,152.0 403.2,153.8 404.5,155.4 405.8,157.0 407.1,158.6 408.4,160.1 409.6,161.5 410.9,162.9 412.2,164.2 413.5,165.4 414.8,166.6 416.0,167.7 417.3,168.8 418.6,169.8 419.9,170.7 421.2,171.6 422.5,172.4 423.7,173.2 425.0,173.9 426.3,174.6 427.6,175.2 428.9,175.8 430.1,176.3 431.4,176.8 432.7,177.3 434.0,177.7 435.3,178.0 436.5,178.4 437.8,178.7 439.1,178.9 440.4,179.2 441.7,179.4 442.9,179.6 444.2,179.7 445.5,179.9 446.8,180.0 448.1,180.1 449.4,180.1 450.6,180.2 451.9,180.2 453.2,180.2 454.5,180.2 455.8,180.2 457.0,180.2" fill="none" stroke="#208020" stroke-width="1.5" stroke-linejoin="round"/>
<path d="M279.0,195.9 280.3,194.9 281.5,193.8 282.8,192.6 284.1,191.4 285.4,190.2 286.7,188.8 287.9,187.4 289.2,186.0 290.5,184.4 291.8,182.8 293.1,181.1 294.4,179.3 295.6,177.5 296.9,175.5 298.2,173.5 299.5,171.5 300.8,169.3 302.0,167.1 303.3,164.8 304.6,162.5 305.9,160.1 307.2,157.6 308.4,155.1 309.7,152.5 311.0,149.9 312.3,147.3 313.6,144.6 314.8,141.9 316.1,139.2 317.4,136.5 318.7,133.7 320.0,131.0 321.3,128.3 322.5,125.7 323.8,123.0 325.1,120.4 326.4,117.9 327.7,115.4 328.9,113.0 330.2,110.7 331.5,108.5 332.8,106.3 334.1,104.3 335.3,102.4 336.6,100.6 337.9,99.0 339.2,97.4 340.5,96.1 341.7,94.8 343.0,93.8 344.3,92.9 345.6,92.1 346.9,91.5 348.2,91.1 349.4,90.9 350.7,90.8 352.0,90.9 353.3,91.2 354.6,91.6 355.8,92.2 357.1,93.0 358.4,93.9 359.7,95.0 361.0,96.2 362.2,97.5 363.5,99.0 364.8,100.5 366.1,102.1 367.4,103.8 368.7,105.6 369.9,107.5 371.2,109.4 372.5,111.4 373.8,113.4 375.1,115.4 376.3,117.5 377.6,119.5 378.9,121.6 380.2,123.8 381.5,125.9 382.7,128.0 384.0,130.1 385.3,132.2 386.6,134.3 387.9,136.3 389.1,138.3 390.4,140.3 391.7,142.3 393.0,144.2 394.3,146.1 395.6,148.0 396.8,149.8 398.1,151.5 399.4,153.2 400.7,154.9 402.0,156.5 403.2,158.0 404.5,159.5 405.8,160.9 407.1,162.3 408.4,163.6 409.6,164.8 410.9,166.0 412.2,167.2 413.5,168.3 414.8,169.3 416.0,170.2 417.3,171.2 418.6,172.0 419.9,172.8 421.2,173.6 422.5,174.3 423.7,175.0 425.0,175.6 426.3,176.1 427.6,176.7 428.9,177.1 430.1,177.6 431.4,178.0 432.7,178.4 434.0,178.7 435.3,179.0 436.5,179.3 437.8,179.5 439.1,179.7 440.4,179.9 441.7,180.1 442.9,180.2 444.2,180.3 445.5,180.4 446.8,180.5 448.1,180.5 449.4,180.6 450.6,180.6 451.9,180.6 453.2,180.6 454.5,180.6 455.8,180.5 457.0,180.5" fill="none" stroke="#14109a" stroke-width="1.5" stroke-linejoin="round"/>
<path d="M279.0,196.0 280.3,195.0 281.5,193.9 282.8,192.8 284.1,191.6 285.4,190.4 286.7,189.0 287.9,187.6 289.2,186.2 290.5,184.6 291.8,183.0 293.1,181.3 294.4,179.6 295.6,177.7 296.9,175.8 298.2,173.8 299.5,171.8 300.8,169.7 302.0,167.5 303.3,165.2 304.6,162.9 305.9,160.5 307.2,158.0 308.4,155.5 309.7,153.0 311.0,150.4 312.3,147.8 313.6,145.1 314.8,142.5 316.1,139.8 317.4,137.1 318.7,134.4 320.0,131.7 321.3,129.0 322.5,126.3 323.8,123.7 325.1,121.2 326.4,118.6 327.7,116.2 328.9,113.8 330.2,111.5 331.5,109.3 332.8,107.2 334.1,105.2 335.3,103.3 336.6,101.5 337.9,99.9 339.2,98.4 340.5,97.1 341.7,95.9 343.0,94.8 344.3,93.9 345.6,93.2 346.9,92.6 348.2,92.2 349.4,92.0 350.7,92.0 352.0,92.1 353.3,92.4 354.6,92.8 355.8,93.5 357.1,94.2 358.4,95.2 359.7,96.2 361.0,97.4 362.2,98.8 363.5,100.2 364.8,101.7 366.1,103.3 367.4,105.0 368.7,106.8 369.9,108.6 371.2,110.5 372.5,112.5 373.8,114.5 375.1,116.5 376.3,118.5 377.6,120.6 378.9,122.7 380.2,124.8 381.5,126.8 382.7,128.9 384.0,131.0 385.3,133.1 386.6,135.1 387.9,137.1 389.1,139.1 390.4,141.1 391.7,143.1 393.0,145.0 394.3,146.8 395.6,148.6 396.8,150.4 398.1,152.1 399.4,153.8 400.7,155.4 402.0,157.0 403.2,158.5 404.5,160.0 405.8,161.4 407.1,162.7 408.4,164.0 409.6,165.2 410.9,166.4 412.2,167.5 413.5,168.6 414.8,169.6 416.0,170.6 417.3,171.5 418.6,172.3 419.9,173.1 421.2,173.8 422.5,174.5 423.7,175.2 425.0,175.8 426.3,176.3 427.6,176.8 428.9,177.3 430.1,177.7 431.4,178.1 432.7,178.5 434.0,178.8 435.3,179.1 436.5,179.4 437.8,179.6 439.1,179.8 440.4,180.0 441.7,180.1 442.9,180.3 444.2,180.4 445.5,180.5 446.8,180.5 448.1,180.6 449.4,180.6 450.6,180.6 451.9,180.6 453.2,180.6 454.5,180.6 455.8,180.6 457.0,180.5" fill="none" stroke="#7020f0" stroke-width="1.5" stroke-linejoin="round"/>
<path d="M279.0,196.2 280.3,195.2 281.5,194.2 282.8,193.0 284.1,191.9 285.4,190.6 286.7,189.3 287.9,188.0 289.2,186.5 290.5,185.0 291.8,183.4 293.1,181.7 294.4,180.0 295.6,178.2 296.9,176.3 298.2,174.3 299.5,172.3 300.8,170.2 302.0,168.0 303.3,165.8 304.6,163.5 305.9,161.1 307.2,158.7 308.4,156.2 309.7,153.7 311.0,151.1 312.3,148.5 313.6,145.9 314.8,143.3 316.1,140.6 317.4,137.9 318.7,135.3 320.0,132.6 321.3,130.0 322.5,127.4 323.8,124.8 325.1,122.3 326.4,119.8 327.7,117.4 328.9,115.0 330.2,112.7 331.5,110.6 332.8,108.5 334.1,106.5 335.3,104.7 336.6,102.9 337.9,101.4 339.2,99.9 340.5,98.6 341.7,97.4 343.0,96.4 344.3,95.5 345.6,94.8 346.9,94.3 348.2,93.9 349.4,93.7 350.7,93.7 352.0,93.9 353.3,94.2 354.6,94.6 355.8,95.3 357.1,96.1 358.4,97.0 359.7,98.1 361.0,99.3 362.2,100.6 363.5,102.0 364.8,103.5 366.1,105.1 367.4,106.8 368.7,108.6 369.9,110.4 371.2,112.2 372.5,114.2 373.8,116.1 375.1,118.1 376.3,120.1 377.6,122.1 378.9,124.2 380.2,126.2 381.5,128.3 382.7,130.3 384.0,132.4 385.3,134.4 386.6,136.4 387.9,138.4 389.1,140.4 390.4,142.3 391.7,144.2 393.0,146.0 394.3,147.9 395.6,149.6 396.8,151.4 398.1,153.1 399.4,154.7 400.7,156.3 402.0,157.8 403.2,159.3 404.5,160.7 405.8,162.1 407.1,163.4 408.4,164.7 409.6,165.9 410.9,167.0 412.2,168.1 413.5,169.1 414.8,170.1 416.0,171.0 417.3,171.9 418.6,172.7 419.9,173.5 421.2,174.2 422.5,174.9 423.7,175.5 425.0,176.1 426.3,176.6 427.6,177.1 428.9,177.6 430.1,178.0 431.4,178.3 432.7,178.7 434.0,179.0 435.3,179.3 436.5,179.5 437.8,179.8 439.1,179.9 440.4,180.1 441.7,180.3 442.9,180.4 444.2,180.5 445.5,180.6 446.8,180.6 448.1,180.7 449.4,180.7 450.6,180.7 451.9,180.7 453.2,180.7 454.5,180.7 455.8,180.6 457.0,180.6" fill="none" stroke="#9a20ff" stroke-width="1.5" stroke-linejoin="round"/>
<path d="M279.0,196.5 280.3,195.5 281.5,194.5 282.8,193.4 284.1,192.2 285.4,191.0 286.7,189.7 287.9,188.4 289.2,187.0 290.5,185.5 291.8,183.9 293.1,182.3 294.4,180.6 295.6,178.8 296.9,176.9 298.2,175.0 299.5,173.0 300.8,170.9 302.0,168.8 303.3,166.6 304.6,164.3 305.9,162.0 307.2,159.6 308.4,157.2 309.7,154.7 311.0,152.2 312.3,149.7 313.6,147.1 314.8,144.5 316.1,141.9 317.4,139.2 318.7,136.6 320.0,134.0 321.3,131.4 322.5,128.8 323.8,126.3 325.1,123.8 326.4,121.4 327.7,119.0 328.9,116.7 330.2,114.5 331.5,112.4 332.8,110.4 334.1,108.5 335.3,106.7 336.6,105.0 337.9,103.4 339.2,102.0 340.5,100.8 341.7,99.6 343.0,98.7 344.3,97.9 345.6,97.2 346.9,96.7 348.2,96.4 349.4,96.2 350.7,96.2 352.0,96.4 353.3,96.8 354.6,97.3 355.8,97.9 357.1,98.7 358.4,99.7 359.7,100.7 361.0,101.9 362.2,103.2 363.5,104.6 364.8,106.1 366.1,107.7 367.4,109.4 368.7,111.1 369.9,112.9 371.2,114.7 372.5,116.6 373.8,118.5 375.1,120.4 376.3,122.4 377.6,124.4 378.9,126.3 380.2,128.3 381.5,130.3 382.7,132.3 384.0,134.3 385.3,136.3 386.6,138.2 387.9,140.2 389.1,142.1 390.4,143.9 391.7,145.8 393.0,147.6 394.3,149.3 395.6,151.1 396.8,152.7 398.1,154.4 399.4,156.0 400.7,157.5 402.0,159.0 403.2,160.4 404.5,161.8 405.8,163.1 407.1,164.3 408.4,165.6 409.6,166.7 410.9,167.8 412.2,168.9 413.5,169.8 414.8,170.8 416.0,171.7 417.3,172.5 418.6,173.3 419.9,174.0 421.2,174.7 422.5,175.3 423.7,175.9 425.0,176.5 426.3,177.0 427.6,177.5 428.9,177.9 430.1,178.3 431.4,178.6 432.7,179.0 434.0,179.3 435.3,179.5 436.5,179.8 437.8,180.0 439.1,180.1 440.4,180.3 441.7,180.4 442.9,180.5 444.2,180.6 445.5,180.7 446.8,180.7 448.1,180.8 449.4,180.8 450.6,180.8 451.9,180.8 453.2,180.8 454.5,180.8 455.8,180.7 457.0,180.7" fill="none" stroke="#80208a" stroke-width="1.5" stroke-linejoin="round"/>
<path d="M279.0,197.4 280.3,196.5 281.5,195.6 282.8,194.6 284.1,193.5 285.4,192.4 286.7,191.2 287.9,189.9 289.2,188.6 290.5,187.2 291.8,185.7 293.1,184.2 294.4,182.6 295.6,180.9 296.9,179.2 298.2,177.3 299.5,175.5 300.8,173.5 302.0,171.5 303.3,169.4 304.6,167.3 305.9,165.1 307.2,162.9 308.4,160.6 309.7,158.2 311.0,155.9 312.3,153.5 313.6,151.0 314.8,148.6 316.1,146.1 317.4,143.7 318.7,141.2 320.0,138.8 321.3,136.3 322.5,133.9 323.8,131.6 325.1,129.3 326.4,127.0 327.7,124.8 328.9,122.7 330.2,120.7 331.5,118.7 332.8,116.9 334.1,115.1 335.3,113.5 336.6,112.0 337.9,110.6 339.2,109.4 340.5,108.3 341.7,107.3 343.0,106.5 344.3,105.8 345.6,105.3 346.9,105.0 348.2,104.8 349.4,104.8 350.7,104.9 352.0,105.1 353.3,105.6 354.6,106.1 355.8,106.8 357.1,107.6 358.4,108.6 359.7,109.6 361.0,110.8 362.2,112.0 363.5,113.4 364.8,114.8 366.1,116.3 367.4,117.8 368.7,119.4 369.9,121.1 371.2,122.8 372.5,124.5 373.8,126.3 375.1,128.1 376.3,129.9 377.6,131.7 378.9,133.5 380.2,135.3 381.5,137.1 382.7,138.9 384.0,140.7 385.3,142.5 386.6,144.2 387.9,146.0 389.1,147.7 390.4,149.4 391.7,151.0 393.0,152.6 394.3,154.2 395.6,155.7 396.8,157.2 398.1,158.6 399.4,160.0 400.7,161.4 402.0,162.7 403.2,164.0 404.5,165.2 405.8,166.3 407.1,167.4 408.4,168.5 409.6,169.5 410.9,170.4 412.2,171.3 413.5,172.2 414.8,173.0 416.0,173.7 417.3,174.5 418.6,175.1 419.9,175.8 421.2,176.3 422.5,176.9 423.7,177.4 425.0,177.8 426.3,178.3 427.6,178.6 428.9,179.0 430.1,179.3 431.4,179.6 432.7,179.9 434.0,180.1 435.3,180.3 436.5,180.5 437.8,180.6 439.1,180.8 440.4,180.9 441.7,181.0 442.9,181.0 444.2,181.1 445.5,181.1 446.8,181.2 448.1,181.2 449.4,181.2 450.6,181.1 451.9,181.1 453.2,181.1 454.5,181.0 455.8,181.0 457.0,180.9" fill="none" stroke="#800000" stroke-width="1.5" stroke-linejoin="round"/>
<path d="M279.0,197.5 280.3,196.6 281.5,195.6 282.8,194.6 284.1,193.5 285.4,192.4 286.7,191.2 287.9,189.9 289.2,188.6 290.5,187.2 291.8,185.7 293.1,184.2 294.4,182.6 295.6,180.9 296.9,179.1 298.2,177.3 299.5,175.4 300.8,173.5 302.0,171.4 303.3,169.3 304.6,167.2 305.9,165.0 307.2,162.7 308.4,160.4 309.7,158.1 311.0,155.7 312.3,153.3 313.6,150.9 314.8,148.4 316.1,145.9 317.4,143.5 318.7,141.0 320.0,138.5 321.3,136.1 322.5,133.7 323.8,131.3 325.1,129.0 326.4,126.7 327.7,124.5 328.9,122.4 330.2,120.4 331.5,118.4 332.8,116.6 334.1,114.8 335.3,113.2 336.6,111.7 337.9,110.4 339.2,109.1 340.5,108.0 341.7,107.1 343.0,106.3 344.3,105.7 345.6,105.2 346.9,104.8 348.2,104.7 349.4,104.7 350.7,104.8 352.0,105.1 353.3,105.5 354.6,106.1 355.8,106.8 357.1,107.7 358.4,108.6 359.7,109.7 361.0,110.9 362.2,112.1 363.5,113.5 364.8,114.9 366.1,116.4 367.4,118.0 368.7,119.6 369.9,121.3 371.2,123.0 372.5,124.7 373.8,126.5 375.1,128.3 376.3,130.1 377.6,131.9 378.9,133.7 380.2,135.5 381.5,137.3 382.7,139.1 384.0,140.9 385.3,142.7 386.6,144.5 387.9,146.2 389.1,147.9 390.4,149.6 391.7,151.2 393.0,152.8 394.3,154.4 395.6,155.9 396.8,157.4 398.1,158.8 399.4,160.2 400.7,161.6 402.0,162.9 403.2,164.1 404.5,165.3 405.8,166.5 407.1,167.6 408.4,168.6 409.6,169.6 410.9,170.6 412.2,171.5 413.5,172.3 414.8,173.1 416.0,173.9 417.3,174.6 418.6,175.2 419.9,175.8 421.2,176.4 422.5,177.0 423.7,177.5 425.0,177.9 426.3,178.3 427.6,178.7 428.9,179.1 430.1,179.4 431.4,179.7 432.7,179.9 434.0,180.1 435.3,180.3 436.5,180.5 437.8,180.7 439.1,180.8 440.4,180.9 441.7,181.0 442.9,181.1 444.2,181.1 445.5,181.2 446.8,181.2 448.1,181.2 449.4,181.2 450.6,181.2 451.9,181.1 453.2,181.1 454.5,181.0 455.8,181.0 457.0,180.9" fill="none" stroke="#808020" stroke-width="1.5" stroke-linejoin="round"/>
</g>
<line x1="283.70" y1="12.20" x2="453.40" y2="12.20" stroke="#555" stroke-width="2.0"/>
<line x1="453.40" y1="12.20" x2="453.40" y2="181.50" stroke="#1a1a1a" stroke-width="1.2"/>
<line x1="283.70" y1="12.20" x2="283.70" y2="181.50" stroke="#1a1a1a" stroke-width="1.3"/>
<line x1="283.70" y1="181.50" x2="453.40" y2="181.50" stroke="#1a1a1a" stroke-width="1.3"/>
<line x1="276.10" y1="177.00" x2="283.70" y2="177.00" stroke="#1a1a1a" stroke-width="1.2"/>
<text x="260.95" y="178.70" font-family="Liberation Sans" font-weight="bold" font-size="9.40" fill="#111" stroke="#111" stroke-width="0.22" >20</text>
<line x1="276.10" y1="138.20" x2="283.70" y2="138.20" stroke="#1a1a1a" stroke-width="1.2"/>
<text x="260.95" y="139.90" font-family="Liberation Sans" font-weight="bold" font-size="9.40" fill="#111" stroke="#111" stroke-width="0.22" >40</text>
<line x1="276.10" y1="99.40" x2="283.70" y2="99.40" stroke="#1a1a1a" stroke-width="1.2"/>
<text x="260.95" y="101.10" font-family="Liberation Sans" font-weight="bold" font-size="9.40" fill="#111" stroke="#111" stroke-width="0.22" >60</text>
<line x1="276.10" y1="60.60" x2="283.70" y2="60.60" stroke="#1a1a1a" stroke-width="1.2"/>
<text x="260.95" y="62.30" font-family="Liberation Sans" font-weight="bold" font-size="9.40" fill="#111" stroke="#111" stroke-width="0.22" >80</text>
<line x1="276.10" y1="21.80" x2="283.70" y2="21.80" stroke="#1a1a1a" stroke-width="1.2"/>
<text x="255.78" y="23.50" font-family="Liberation Sans" font-weight="bold" font-size="9.40" fill="#111" stroke="#111" stroke-width="0.22" >100</text>
<line x1="304.60" y1="181.50" x2="304.60" y2="189.50" stroke="#1a1a1a" stroke-width="1.2"/>
<text x="297.93" y="200.80" font-family="Liberation Sans" font-weight="bold" font-size="9.60" fill="#111" stroke="#111" stroke-width="0.22" >0.3</text>
<line x1="347.30" y1="181.50" x2="347.30" y2="189.50" stroke="#1a1a1a" stroke-width="1.2"/>
<text x="340.48" y="200.80" font-family="Liberation Sans" font-weight="bold" font-size="9.60" fill="#111" stroke="#111" stroke-width="0.22" >0.4</text>
<line x1="390.00" y1="181.50" x2="390.00" y2="189.50" stroke="#1a1a1a" stroke-width="1.2"/>
<text x="383.28" y="200.80" font-family="Liberation Sans" font-weight="bold" font-size="9.60" fill="#111" stroke="#111" stroke-width="0.22" >0.5</text>
<line x1="432.70" y1="181.50" x2="432.70" y2="189.50" stroke="#1a1a1a" stroke-width="1.2"/>
<text x="426.03" y="200.80" font-family="Liberation Sans" font-weight="bold" font-size="9.60" fill="#111" stroke="#111" stroke-width="0.22" >0.6</text>
<text x="330.54" y="219.80" font-family="Liberation Sans" font-weight="bold" font-size="9.42" fill="#111" stroke="#111" stroke-width="0.22" >Potential (V)</text>
<text transform="translate(255.20,131.49) rotate(-90)" font-family="Liberation Sans" font-weight="bold" font-size="9.74" fill="#111" stroke="#111" stroke-width="0.22">Current (&#956;A)</text>
<text transform="translate(365.38,23.90) scale(0.890,1)" font-family="Liberation Serif" font-weight="bold" font-size="7.00" fill="#8b1a1a" stroke="#8b1a1a" stroke-width="0.25">MOF - Increasing Concentration</text>
<text x="425.33" y="67.00" font-family="Liberation Sans" font-weight="bold" font-size="6.20" fill="#111" stroke="#111" stroke-width="0.22" >100 &#956;L</text>
<text x="422.91" y="98.60" font-family="Liberation Sans" font-weight="bold" font-size="6.24" fill="#111" stroke="#111" stroke-width="0.22" >900 &#956;L</text>
<line x1="435.30" y1="71.50" x2="435.30" y2="87.50" stroke="#111" stroke-width="1.1"/>
<path d="M431.30,81.30 L435.30,87.80 L439.30,81.30" fill="none" stroke="#111" stroke-width="1.1"/>
<g clip-path="url(#cpc)">
<path d="M508.7,171.9 509.4,171.9 510.2,171.9 510.9,171.9 511.7,171.9 512.5,171.9 513.2,171.9 514.0,171.9 514.7,171.9 515.5,171.9 516.2,171.9 517.0,171.9 517.7,171.9 518.5,171.9 519.2,171.9 520.0,171.9 520.7,171.9 521.5,171.9 522.2,171.9 523.0,171.9 523.7,171.9 524.5,171.9 525.2,171.9 526.0,171.9 526.7,171.9 527.5,171.9 528.2,171.9 529.0,171.9 529.7,171.9 530.5,171.9 531.2,171.9 532.0,171.8 532.7,171.8 533.5,171.8 534.2,171.8 535.0,171.8 535.7,171.8 536.5,171.8 537.2,171.8 538.0,171.8 538.7,171.8 539.5,171.8 540.2,171.7 541.0,171.7 541.7,171.7 542.5,171.7 543.2,171.7 544.0,171.6 544.7,171.6 545.5,171.6 546.2,171.6 547.0,171.5 547.7,171.5 548.5,171.4 549.2,171.4 550.0,171.3 550.7,171.3 551.5,171.2 552.2,171.2 553.0,171.1 553.7,171.0 554.5,170.9 555.2,170.8 556.0,170.7 556.7,170.6 557.5,170.5 558.2,170.4 559.0,170.2 559.7,170.1 560.5,169.9 561.2,169.7 562.0,169.5 562.7,169.3 563.5,169.1 564.2,168.9 565.0,168.7 565.7,168.4 566.5,168.1 567.2,167.8 568.0,167.5 568.7,167.2 569.5,166.8 570.2,166.4 571.0,166.0 571.7,165.6 572.5,165.2 573.2,164.7 574.0,164.2 574.7,163.7 575.5,163.2 576.2,162.6 577.0,162.0 577.7,161.4 578.5,160.8 579.2,160.1 580.0,159.4 580.7,158.7 581.5,157.9 582.2,157.1 583.0,156.3 583.7,155.5 584.5,154.7 585.2,153.8 586.0,152.9 586.7,152.0 587.5,151.0 588.2,150.1 589.0,149.1 589.7,148.1 590.5,147.1 591.2,146.0 592.0,145.0 592.7,143.9 593.5,142.9 594.2,141.8 595.0,140.7 595.7,139.6 596.5,138.5 597.2,137.4 598.0,136.4 598.7,135.3 599.5,134.2 600.2,133.2 601.0,132.1 601.7,131.1 602.5,130.1 603.2,129.1 604.0,128.2 604.7,127.2 605.5,126.3 606.2,125.5 607.0,124.6 607.7,123.9 608.5,123.1 609.2,122.4 610.0,121.7 610.7,121.1 611.5,120.5 612.2,120.0 613.0,119.6 613.7,119.1 614.5,118.8 615.2,118.5 616.0,118.2 616.7,118.1 617.5,117.9 618.2,117.9 619.0,117.8 619.7,117.9 620.5,117.9 621.2,118.0 622.0,118.0 622.7,118.1 623.5,118.2 624.2,118.4 625.0,118.5 625.7,118.7 626.5,118.9 627.2,119.1 628.0,119.3 628.7,119.6 629.5,119.8 630.2,120.1 631.0,120.4 631.7,120.7 632.5,121.0 633.2,121.3 634.0,121.7 634.7,122.0 635.5,122.4 636.2,122.8 637.0,123.1 637.7,123.5 638.5,123.9 639.2,124.4 640.0,124.8 640.7,125.2 641.5,125.6 642.2,126.1 643.0,126.5 643.7,127.0 644.5,127.4 645.2,127.9 646.0,128.3 646.7,128.8 647.5,129.3 648.2,129.8 649.0,130.2 649.7,130.7 650.5,131.2 651.2,131.7 652.0,132.2 652.7,132.7 653.5,133.1 654.2,133.6 655.0,134.1 655.7,134.6 656.5,135.1 657.2,135.6 658.0,136.1 658.7,136.6 659.5,137.0 660.2,137.5 661.0,138.0 661.7,138.5 662.5,139.0 663.2,139.4 664.0,139.9 664.7,140.4 665.5,140.9 666.2,141.3 667.0,141.8 667.7,142.3 668.5,142.7 669.2,143.2 670.0,143.6 670.7,144.1 671.5,144.5 672.2,145.0 673.0,145.4 673.7,145.9 674.5,146.3 675.2,146.7 676.0,147.2 676.7,147.6 677.5,148.0 678.2,148.4 679.0,148.8 679.7,149.3" fill="none" stroke="#111111" stroke-width="1.5" stroke-linejoin="round"/>
<path d="M508.7,171.2 509.4,171.2 510.2,171.1 510.9,171.1 511.7,171.1 512.5,171.1 513.2,171.1 514.0,171.1 514.7,171.1 515.5,171.1 516.2,171.1 517.0,171.1 517.7,171.1 518.5,171.1 519.2,171.1 520.0,171.0 520.7,171.0 521.5,171.0 522.2,171.0 523.0,171.0 523.7,171.0 524.5,171.0 525.2,171.0 526.0,171.0 526.7,171.0 527.5,170.9 528.2,170.9 529.0,170.9 529.7,170.9 530.5,170.9 531.2,170.9 532.0,170.9 532.7,170.9 533.5,170.8 534.2,170.8 535.0,170.8 535.7,170.8 536.5,170.8 537.2,170.8 538.0,170.7 538.7,170.7 539.5,170.7 540.2,170.7 541.0,170.7 541.7,170.6 542.5,170.6 543.2,170.6 544.0,170.6 544.7,170.5 545.5,170.5 546.2,170.5 547.0,170.5 547.7,170.4 548.5,170.4 549.2,170.4 550.0,170.3 550.7,170.3 551.5,170.2 552.2,170.2 553.0,170.1 553.7,170.1 554.5,170.0 555.2,170.0 556.0,169.9 556.7,169.8 557.5,169.7 558.2,169.6 559.0,169.5 559.7,169.4 560.5,169.2 561.2,169.1 562.0,168.9 562.7,168.7 563.5,168.5 564.2,168.3 565.0,168.1 565.7,167.8 566.5,167.5 567.2,167.3 568.0,166.9 568.7,166.6 569.5,166.3 570.2,165.9 571.0,165.5 571.7,165.0 572.5,164.6 573.2,164.0 574.0,163.5 574.7,162.9 575.5,162.3 576.2,161.7 577.0,161.0 577.7,160.2 578.5,159.5 579.2,158.6 580.0,157.8 580.7,156.9 581.5,155.9 582.2,154.9 583.0,153.8 583.7,152.7 584.5,151.6 585.2,150.4 586.0,149.2 586.7,147.9 587.5,146.5 588.2,145.2 589.0,143.8 589.7,142.3 590.5,140.8 591.2,139.3 592.0,137.7 592.7,136.2 593.5,134.6 594.2,132.9 595.0,131.3 595.7,129.7 596.5,128.0 597.2,126.4 598.0,124.8 598.7,123.2 599.5,121.7 600.2,120.3 601.0,119.0 601.7,117.7 602.5,116.6 603.2,115.7 604.0,114.9 604.7,114.3 605.5,114.0 606.2,113.8 607.0,113.8 607.7,113.8 608.5,113.9 609.2,114.1 610.0,114.3 610.7,114.5 611.5,114.8 612.2,115.2 613.0,115.6 613.7,116.0 614.5,116.5 615.2,117.0 616.0,117.5 616.7,118.1 617.5,118.7 618.2,119.3 619.0,120.0 619.7,120.6 620.5,121.3 621.2,122.0 622.0,122.7 622.7,123.5 623.5,124.2 624.2,124.9 625.0,125.7 625.7,126.4 626.5,127.2 627.2,127.9 628.0,128.6 628.7,129.4 629.5,130.1 630.2,130.8 631.0,131.5 631.7,132.2 632.5,132.9 633.2,133.6 634.0,134.3 634.7,134.9 635.5,135.6 636.2,136.3 637.0,136.9 637.7,137.5 638.5,138.1 639.2,138.7 640.0,139.3 640.7,139.9 641.5,140.5 642.2,141.0 643.0,141.5 643.7,142.1 644.5,142.6 645.2,143.1 646.0,143.6 646.7,144.1 647.5,144.6 648.2,145.0 649.0,145.5 649.7,145.9 650.5,146.4 651.2,146.8 652.0,147.2 652.7,147.6 653.5,148.0 654.2,148.4 655.0,148.7 655.7,149.1 656.5,149.5 657.2,149.8 658.0,150.1 658.7,150.5 659.5,150.8 660.2,151.1 661.0,151.4 661.7,151.7 662.5,152.0 663.2,152.3 664.0,152.5 664.7,152.8 665.5,153.1 666.2,153.3 667.0,153.5 667.7,153.8 668.5,154.0 669.2,154.2 670.0,154.4 670.7,154.7 671.5,154.9 672.2,155.0 673.0,155.2 673.7,155.4 674.5,155.6 675.2,155.8 676.0,155.9 676.7,156.1 677.5,156.3 678.2,156.4 679.0,156.6 679.7,156.7" fill="none" stroke="#ff2020" stroke-width="1.5" stroke-linejoin="round"/>
<path d="M508.7,171.0 509.4,171.0 510.2,171.0 510.9,171.0 511.7,171.0 512.5,171.0 513.2,171.0 514.0,171.0 514.7,171.0 515.5,171.0 516.2,171.0 517.0,171.0 517.7,171.0 518.5,171.0 519.2,171.0 520.0,171.0 520.7,171.0 521.5,171.0 522.2,171.0 523.0,171.0 523.7,171.0 524.5,171.0 525.2,171.0 526.0,171.0 526.7,171.0 527.5,171.0 528.2,171.0 529.0,171.0 529.7,171.0 530.5,171.0 531.2,171.0 532.0,171.0 532.7,171.0 533.5,171.0 534.2,171.0 535.0,171.0 535.7,171.0 536.5,171.0 537.2,171.0 538.0,171.0 538.7,171.0 539.5,171.0 540.2,171.0 541.0,171.0 541.7,171.0 542.5,171.0 543.2,171.0 544.0,171.0 544.7,171.0 545.5,171.0 546.2,171.0 547.0,171.0 547.7,171.0 548.5,171.0 549.2,171.0 550.0,171.0 550.7,171.0 551.5,171.0 552.2,171.0 553.0,170.9 553.7,170.9 554.5,170.9 555.2,170.9 556.0,170.9 556.7,170.8 557.5,170.8 558.2,170.7 559.0,170.7 559.7,170.6 560.5,170.5 561.2,170.4 562.0,170.2 562.7,170.1 563.5,169.9 564.2,169.7 565.0,169.5 565.7,169.3 566.5,169.0 567.2,168.7 568.0,168.4 568.7,168.0 569.5,167.6 570.2,167.1 571.0,166.6 571.7,166.0 572.5,165.4 573.2,164.7 574.0,163.9 574.7,163.1 575.5,162.1 576.2,161.1 577.0,160.1 577.7,158.9 578.5,157.6 579.2,156.3 580.0,154.9 580.7,153.3 581.5,151.7 582.2,150.0 583.0,148.2 583.7,146.3 584.5,144.4 585.2,142.4 586.0,140.3 586.7,138.2 587.5,136.0 588.2,133.7 589.0,131.5 589.7,129.2 590.5,127.0 591.2,124.7 592.0,122.5 592.7,120.3 593.5,118.2 594.2,116.2 595.0,114.2 595.7,112.4 596.5,110.7 597.2,109.1 598.0,107.7 598.7,106.4 599.5,105.3 600.2,104.3 601.0,103.6 601.7,103.1 602.5,102.7 603.2,102.6 604.0,102.6 604.7,102.7 605.5,102.9 606.2,103.3 607.0,103.7 607.7,104.2 608.5,104.8 609.2,105.5 610.0,106.3 610.7,107.2 611.5,108.1 612.2,109.1 613.0,110.1 613.7,111.2 614.5,112.3 615.2,113.4 616.0,114.6 616.7,115.7 617.5,116.9 618.2,118.1 619.0,119.3 619.7,120.5 620.5,121.7 621.2,122.9 622.0,124.1 622.7,125.2 623.5,126.3 624.2,127.4 625.0,128.5 625.7,129.6 626.5,130.6 627.2,131.7 628.0,132.7 628.7,133.6 629.5,134.6 630.2,135.5 631.0,136.3 631.7,137.2 632.5,138.0 633.2,138.8 634.0,139.6 634.7,140.4 635.5,141.1 636.2,141.8 637.0,142.5 637.7,143.1 638.5,143.8 639.2,144.4 640.0,145.0 640.7,145.5 641.5,146.1 642.2,146.6 643.0,147.1 643.7,147.6 644.5,148.1 645.2,148.6 646.0,149.0 646.7,149.5 647.5,149.9 648.2,150.3 649.0,150.7 649.7,151.0 650.5,151.4 651.2,151.7 652.0,152.1 652.7,152.4 653.5,152.7 654.2,153.0 655.0,153.3 655.7,153.6 656.5,153.9 657.2,154.1 658.0,154.4 658.7,154.6 659.5,154.9 660.2,155.1 661.0,155.3 661.7,155.5 662.5,155.7 663.2,155.9 664.0,156.1 664.7,156.3 665.5,156.5 666.2,156.7 667.0,156.8 667.7,157.0 668.5,157.2 669.2,157.3 670.0,157.5 670.7,157.6 671.5,157.7 672.2,157.9 673.0,158.0 673.7,158.1 674.5,158.3 675.2,158.4 676.0,158.5 676.7,158.6 677.5,158.7 678.2,158.8 679.0,158.9 679.7,159.0" fill="none" stroke="#2020ff" stroke-width="1.5" stroke-linejoin="round"/>
<path d="M508.7,171.1 509.4,171.1 510.2,171.1 510.9,171.1 511.7,171.1 512.5,171.1 513.2,171.1 514.0,171.1 514.7,171.1 515.5,171.0 516.2,171.0 517.0,171.0 517.7,171.0 518.5,171.0 519.2,171.0 520.0,171.0 520.7,171.0 521.5,171.0 522.2,171.0 523.0,171.0 523.7,171.0 524.5,171.0 525.2,171.0 526.0,171.0 526.7,171.0 527.5,171.0 528.2,171.0 529.0,171.0 529.7,171.0 530.5,171.0 531.2,170.9 532.0,170.9 532.7,170.9 533.5,170.9 534.2,170.9 535.0,170.9 535.7,170.9 536.5,170.9 537.2,170.9 538.0,170.9 538.7,170.9 539.5,170.9 540.2,170.8 541.0,170.8 541.7,170.8 542.5,170.8 543.2,170.8 544.0,170.8 544.7,170.8 545.5,170.8 546.2,170.7 547.0,170.7 547.7,170.7 548.5,170.7 549.2,170.6 550.0,170.6 550.7,170.6 551.5,170.6 552.2,170.5 553.0,170.5 553.7,170.4 554.5,170.4 555.2,170.3 556.0,170.2 556.7,170.1 557.5,170.1 558.2,170.0 559.0,169.8 559.7,169.7 560.5,169.5 561.2,169.3 562.0,169.1 562.7,168.9 563.5,168.7 564.2,168.4 565.0,168.1 565.7,167.7 566.5,167.4 567.2,166.9 568.0,166.5 568.7,166.0 569.5,165.4 570.2,164.8 571.0,164.2 571.7,163.5 572.5,162.7 573.2,161.8 574.0,160.9 574.7,159.9 575.5,158.9 576.2,157.7 577.0,156.5 577.7,155.2 578.5,153.8 579.2,152.3 580.0,150.8 580.7,149.1 581.5,147.4 582.2,145.6 583.0,143.7 583.7,141.8 584.5,139.8 585.2,137.7 586.0,135.5 586.7,133.3 587.5,131.0 588.2,128.7 589.0,126.4 589.7,124.0 590.5,121.7 591.2,119.3 592.0,116.9 592.7,114.6 593.5,112.3 594.2,110.0 595.0,107.8 595.7,105.6 596.5,103.6 597.2,101.6 598.0,99.8 598.7,98.1 599.5,96.6 600.2,95.3 601.0,94.2 601.7,93.2 602.5,92.5 603.2,92.1 604.0,91.9 604.7,91.9 605.5,92.1 606.2,92.5 607.0,93.1 607.7,93.9 608.5,94.8 609.2,95.8 610.0,97.0 610.7,98.3 611.5,99.7 612.2,101.2 613.0,102.8 613.7,104.4 614.5,106.1 615.2,107.8 616.0,109.5 616.7,111.2 617.5,113.0 618.2,114.7 619.0,116.4 619.7,118.1 620.5,119.7 621.2,121.4 622.0,123.0 622.7,124.5 623.5,126.0 624.2,127.4 625.0,128.9 625.7,130.2 626.5,131.5 627.2,132.8 628.0,134.0 628.7,135.2 629.5,136.3 630.2,137.4 631.0,138.5 631.7,139.5 632.5,140.4 633.2,141.4 634.0,142.2 634.7,143.1 635.5,143.9 636.2,144.7 637.0,145.4 637.7,146.2 638.5,146.9 639.2,147.5 640.0,148.2 640.7,148.8 641.5,149.3 642.2,149.9 643.0,150.4 643.7,151.0 644.5,151.5 645.2,151.9 646.0,152.4 646.7,152.8 647.5,153.3 648.2,153.7 649.0,154.1 649.7,154.4 650.5,154.8 651.2,155.1 652.0,155.5 652.7,155.8 653.5,156.1 654.2,156.4 655.0,156.7 655.7,157.0 656.5,157.2 657.2,157.5 658.0,157.7 658.7,158.0 659.5,158.2 660.2,158.4 661.0,158.6 661.7,158.8 662.5,159.0 663.2,159.2 664.0,159.4 664.7,159.6 665.5,159.8 666.2,159.9 667.0,160.1 667.7,160.2 668.5,160.4 669.2,160.5 670.0,160.7 670.7,160.8 671.5,160.9 672.2,161.1 673.0,161.2 673.7,161.3 674.5,161.4 675.2,161.5 676.0,161.6 676.7,161.7 677.5,161.8 678.2,161.9 679.0,162.0 679.7,162.1" fill="none" stroke="#ff40ff" stroke-width="1.5" stroke-linejoin="round"/>
<path d="M508.7,171.0 509.4,171.0 510.2,171.0 510.9,171.0 511.7,171.0 512.5,171.0 513.2,171.0 514.0,171.0 514.7,171.0 515.5,171.0 516.2,171.0 517.0,171.0 517.7,171.0 518.5,171.0 519.2,171.0 520.0,171.0 520.7,171.0 521.5,171.0 522.2,171.0 523.0,171.0 523.7,171.0 524.5,171.0 525.2,171.0 526.0,171.0 526.7,171.0 527.5,171.0 528.2,171.0 529.0,171.0 529.7,171.0 530.5,171.0 531.2,171.0 532.0,171.0 532.7,170.9 533.5,170.9 534.2,170.9 535.0,170.9 535.7,170.9 536.5,170.9 537.2,170.9 538.0,170.9 538.7,170.9 539.5,170.9 540.2,170.8 541.0,170.8 541.7,170.8 542.5,170.8 543.2,170.7 544.0,170.7 544.7,170.7 545.5,170.6 546.2,170.6 547.0,170.5 547.7,170.4 548.5,170.4 549.2,170.3 550.0,170.2 550.7,170.0 551.5,169.9 552.2,169.8 553.0,169.6 553.7,169.4 554.5,169.2 555.2,169.0 556.0,168.8 556.7,168.5 557.5,168.2 558.2,167.9 559.0,167.5 559.7,167.1 560.5,166.6 561.2,166.1 562.0,165.6 562.7,165.0 563.5,164.4 564.2,163.7 565.0,163.0 565.7,162.2 566.5,161.3 567.2,160.4 568.0,159.4 568.7,158.4 569.5,157.2 570.2,156.0 571.0,154.8 571.7,153.4 572.5,152.0 573.2,150.5 574.0,148.9 574.7,147.2 575.5,145.4 576.2,143.6 577.0,141.7 577.7,139.7 578.5,137.6 579.2,135.5 580.0,133.3 580.7,131.0 581.5,128.7 582.2,126.3 583.0,123.8 583.7,121.4 584.5,118.8 585.2,116.3 586.0,113.7 586.7,111.1 587.5,108.5 588.2,106.0 589.0,103.4 589.7,100.9 590.5,98.3 591.2,95.9 592.0,93.5 592.7,91.1 593.5,88.9 594.2,86.7 595.0,84.6 595.7,82.7 596.5,80.8 597.2,79.1 598.0,77.5 598.7,76.1 599.5,74.8 600.2,73.7 601.0,72.7 601.7,71.9 602.5,71.3 603.2,70.9 604.0,70.6 604.7,70.5 605.5,70.6 606.2,70.9 607.0,71.3 607.7,71.9 608.5,72.6 609.2,73.5 610.0,74.5 610.7,75.7 611.5,76.9 612.2,78.3 613.0,79.8 613.7,81.3 614.5,83.0 615.2,84.7 616.0,86.4 616.7,88.2 617.5,90.0 618.2,91.8 619.0,93.7 619.7,95.6 620.5,97.4 621.2,99.3 622.0,101.1 622.7,102.9 623.5,104.7 624.2,106.5 625.0,108.2 625.7,109.9 626.5,111.6 627.2,113.2 628.0,114.9 628.7,116.4 629.5,118.0 630.2,119.5 631.0,120.9 631.7,122.3 632.5,123.7 633.2,125.1 634.0,126.4 634.7,127.7 635.5,128.9 636.2,130.1 637.0,131.3 637.7,132.4 638.5,133.5 639.2,134.6 640.0,135.6 640.7,136.6 641.5,137.6 642.2,138.5 643.0,139.4 643.7,140.3 644.5,141.2 645.2,142.0 646.0,142.8 646.7,143.6 647.5,144.4 648.2,145.1 649.0,145.8 649.7,146.5 650.5,147.2 651.2,147.9 652.0,148.5 652.7,149.1 653.5,149.7 654.2,150.3 655.0,150.8 655.7,151.3 656.5,151.9 657.2,152.4 658.0,152.8 658.7,153.3 659.5,153.8 660.2,154.2 661.0,154.6 661.7,155.0 662.5,155.4 663.2,155.8 664.0,156.2 664.7,156.5 665.5,156.9 666.2,157.2 667.0,157.5 667.7,157.8 668.5,158.1 669.2,158.4 670.0,158.7 670.7,159.0 671.5,159.2 672.2,159.5 673.0,159.7 673.7,160.0 674.5,160.2 675.2,160.4 676.0,160.6 676.7,160.9 677.5,161.1 678.2,161.2 679.0,161.4 679.7,161.6" fill="none" stroke="#9a20f0" stroke-width="1.5" stroke-linejoin="round"/>
<path d="M508.7,171.1 509.4,171.1 510.2,171.1 510.9,171.1 511.7,171.1 512.5,171.1 513.2,171.1 514.0,171.1 514.7,171.1 515.5,171.1 516.2,171.1 517.0,171.1 517.7,171.1 518.5,171.0 519.2,171.0 520.0,171.0 520.7,171.0 521.5,171.0 522.2,171.0 523.0,171.0 523.7,171.0 524.5,171.0 525.2,171.0 526.0,171.0 526.7,171.0 527.5,171.0 528.2,171.0 529.0,171.0 529.7,171.0 530.5,171.0 531.2,170.9 532.0,170.9 532.7,170.9 533.5,170.9 534.2,170.9 535.0,170.9 535.7,170.9 536.5,170.9 537.2,170.9 538.0,170.9 538.7,170.9 539.5,170.8 540.2,170.8 541.0,170.8 541.7,170.8 542.5,170.8 543.2,170.8 544.0,170.8 544.7,170.7 545.5,170.7 546.2,170.7 547.0,170.7 547.7,170.7 548.5,170.6 549.2,170.6 550.0,170.6 550.7,170.5 551.5,170.5 552.2,170.4 553.0,170.4 553.7,170.3 554.5,170.3 555.2,170.2 556.0,170.1 556.7,170.0 557.5,169.9 558.2,169.8 559.0,169.7 559.7,169.5 560.5,169.3 561.2,169.1 562.0,168.9 562.7,168.6 563.5,168.3 564.2,168.0 565.0,167.6 565.7,167.2 566.5,166.7 567.2,166.2 568.0,165.6 568.7,165.0 569.5,164.3 570.2,163.6 571.0,162.7 571.7,161.8 572.5,160.8 573.2,159.7 574.0,158.5 574.7,157.3 575.5,155.9 576.2,154.4 577.0,152.8 577.7,151.1 578.5,149.3 579.2,147.4 580.0,145.4 580.7,143.3 581.5,141.0 582.2,138.7 583.0,136.3 583.7,133.7 584.5,131.1 585.2,128.4 586.0,125.7 586.7,122.9 587.5,120.0 588.2,117.1 589.0,114.2 589.7,111.2 590.5,108.3 591.2,105.4 592.0,102.5 592.7,99.7 593.5,97.0 594.2,94.4 595.0,91.8 595.7,89.5 596.5,87.2 597.2,85.2 598.0,83.4 598.7,81.8 599.5,80.5 600.2,79.5 601.0,78.8 601.7,78.4 602.5,78.3 603.2,78.6 604.0,79.1 604.7,79.8 605.5,80.8 606.2,82.0 607.0,83.4 607.7,85.0 608.5,86.8 609.2,88.7 610.0,90.7 610.7,92.8 611.5,95.0 612.2,97.2 613.0,99.5 613.7,101.8 614.5,104.1 615.2,106.3 616.0,108.5 616.7,110.7 617.5,112.9 618.2,115.0 619.0,117.0 619.7,119.0 620.5,120.9 621.2,122.7 622.0,124.5 622.7,126.2 623.5,127.9 624.2,129.4 625.0,130.9 625.7,132.4 626.5,133.8 627.2,135.1 628.0,136.4 628.7,137.6 629.5,138.7 630.2,139.9 631.0,140.9 631.7,141.9 632.5,142.9 633.2,143.8 634.0,144.7 634.7,145.5 635.5,146.4 636.2,147.1 637.0,147.9 637.7,148.6 638.5,149.2 639.2,149.9 640.0,150.5 640.7,151.1 641.5,151.7 642.2,152.2 643.0,152.7 643.7,153.2 644.5,153.7 645.2,154.2 646.0,154.6 646.7,155.0 647.5,155.4 648.2,155.8 649.0,156.2 649.7,156.6 650.5,156.9 651.2,157.2 652.0,157.6 652.7,157.9 653.5,158.2 654.2,158.5 655.0,158.7 655.7,159.0 656.5,159.3 657.2,159.5 658.0,159.7 658.7,160.0 659.5,160.2 660.2,160.4 661.0,160.6 661.7,160.8 662.5,161.0 663.2,161.2 664.0,161.4 664.7,161.6 665.5,161.7 666.2,161.9 667.0,162.0 667.7,162.2 668.5,162.3 669.2,162.5 670.0,162.6 670.7,162.8 671.5,162.9 672.2,163.0 673.0,163.1 673.7,163.3 674.5,163.4 675.2,163.5 676.0,163.6 676.7,163.7 677.5,163.8 678.2,163.9 679.0,164.0 679.7,164.1" fill="none" stroke="#208020" stroke-width="1.5" stroke-linejoin="round"/>
<path d="M508.7,171.1 509.4,171.1 510.2,171.1 510.9,171.1 511.7,171.1 512.5,171.1 513.2,171.1 514.0,171.1 514.7,171.0 515.5,171.0 516.2,171.0 517.0,171.0 517.7,171.0 518.5,171.0 519.2,171.0 520.0,171.0 520.7,171.0 521.5,171.0 522.2,171.0 523.0,171.0 523.7,171.0 524.5,171.0 525.2,171.0 526.0,171.0 526.7,171.0 527.5,171.0 528.2,171.0 529.0,171.0 529.7,171.0 530.5,171.0 531.2,170.9 532.0,170.9 532.7,170.9 533.5,170.9 534.2,170.9 535.0,170.9 535.7,170.9 536.5,170.9 537.2,170.9 538.0,170.9 538.7,170.9 539.5,170.9 540.2,170.9 541.0,170.8 541.7,170.8 542.5,170.8 543.2,170.8 544.0,170.8 544.7,170.8 545.5,170.8 546.2,170.7 547.0,170.7 547.7,170.7 548.5,170.7 549.2,170.7 550.0,170.6 550.7,170.6 551.5,170.6 552.2,170.5 553.0,170.5 553.7,170.4 554.5,170.4 555.2,170.3 556.0,170.2 556.7,170.1 557.5,170.0 558.2,169.9 559.0,169.8 559.7,169.6 560.5,169.4 561.2,169.2 562.0,169.0 562.7,168.8 563.5,168.5 564.2,168.2 565.0,167.8 565.7,167.4 566.5,167.0 567.2,166.5 568.0,165.9 568.7,165.3 569.5,164.7 570.2,164.0 571.0,163.2 571.7,162.3 572.5,161.3 573.2,160.3 574.0,159.2 574.7,158.0 575.5,156.7 576.2,155.3 577.0,153.8 577.7,152.1 578.5,150.4 579.2,148.6 580.0,146.7 580.7,144.7 581.5,142.5 582.2,140.3 583.0,138.0 583.7,135.6 584.5,133.0 585.2,130.5 586.0,127.8 586.7,125.1 587.5,122.3 588.2,119.5 589.0,116.7 589.7,113.9 590.5,111.0 591.2,108.2 592.0,105.4 592.7,102.6 593.5,99.9 594.2,97.3 595.0,94.7 595.7,92.3 596.5,90.1 597.2,87.9 598.0,86.0 598.7,84.3 599.5,82.7 600.2,81.5 601.0,80.5 601.7,79.7 602.5,79.3 603.2,79.2 604.0,79.3 604.7,79.8 605.5,80.5 606.2,81.5 607.0,82.7 607.7,84.2 608.5,85.9 609.2,87.7 610.0,89.7 610.7,91.8 611.5,94.1 612.2,96.4 613.0,98.7 613.7,101.1 614.5,103.4 615.2,105.8 616.0,108.1 616.7,110.4 617.5,112.7 618.2,114.9 619.0,117.0 619.7,119.1 620.5,121.1 621.2,123.0 622.0,124.8 622.7,126.6 623.5,128.3 624.2,129.9 625.0,131.5 625.7,133.0 626.5,134.4 627.2,135.8 628.0,137.1 628.7,138.3 629.5,139.5 630.2,140.6 631.0,141.7 631.7,142.7 632.5,143.7 633.2,144.7 634.0,145.5 634.7,146.4 635.5,147.2 636.2,148.0 637.0,148.7 637.7,149.4 638.5,150.1 639.2,150.7 640.0,151.3 640.7,151.9 641.5,152.5 642.2,153.0 643.0,153.5 643.7,154.0 644.5,154.5 645.2,154.9 646.0,155.4 646.7,155.8 647.5,156.2 648.2,156.6 649.0,156.9 649.7,157.3 650.5,157.6 651.2,157.9 652.0,158.3 652.7,158.6 653.5,158.8 654.2,159.1 655.0,159.4 655.7,159.6 656.5,159.9 657.2,160.1 658.0,160.4 658.7,160.6 659.5,160.8 660.2,161.0 661.0,161.2 661.7,161.4 662.5,161.6 663.2,161.7 664.0,161.9 664.7,162.1 665.5,162.2 666.2,162.4 667.0,162.5 667.7,162.7 668.5,162.8 669.2,163.0 670.0,163.1 670.7,163.2 671.5,163.3 672.2,163.5 673.0,163.6 673.7,163.7 674.5,163.8 675.2,163.9 676.0,164.0 676.7,164.1 677.5,164.2 678.2,164.3 679.0,164.4 679.7,164.5" fill="none" stroke="#101080" stroke-width="1.5" stroke-linejoin="round"/>
<path d="M508.7,171.3 509.4,171.3 510.2,171.2 510.9,171.2 511.7,171.1 512.5,171.1 513.2,171.0 514.0,171.0 514.7,171.0 515.5,170.9 516.2,170.9 517.0,170.8 517.7,170.8 518.5,170.7 519.2,170.6 520.0,170.6 520.7,170.5 521.5,170.5 522.2,170.4 523.0,170.3 523.7,170.3 524.5,170.2 525.2,170.1 526.0,170.1 526.7,170.0 527.5,169.9 528.2,169.8 529.0,169.8 529.7,169.7 530.5,169.6 531.2,169.5 532.0,169.4 532.7,169.3 533.5,169.2 534.2,169.1 535.0,169.0 535.7,168.9 536.5,168.8 537.2,168.7 538.0,168.5 538.7,168.4 539.5,168.3 540.2,168.2 541.0,168.0 541.7,167.9 542.5,167.7 543.2,167.5 544.0,167.4 544.7,167.2 545.5,167.0 546.2,166.8 547.0,166.6 547.7,166.4 548.5,166.2 549.2,165.9 550.0,165.7 550.7,165.4 551.5,165.1 552.2,164.8 553.0,164.5 553.7,164.2 554.5,163.8 555.2,163.5 556.0,163.1 556.7,162.7 557.5,162.2 558.2,161.8 559.0,161.3 559.7,160.7 560.5,160.2 561.2,159.6 562.0,158.9 562.7,158.2 563.5,157.5 564.2,156.8 565.0,156.0 565.7,155.1 566.5,154.2 567.2,153.3 568.0,152.3 568.7,151.3 569.5,150.2 570.2,149.0 571.0,147.8 571.7,146.5 572.5,145.2 573.2,143.7 574.0,142.2 574.7,140.7 575.5,139.0 576.2,137.3 577.0,135.5 577.7,133.6 578.5,131.6 579.2,129.5 580.0,127.3 580.7,125.0 581.5,122.6 582.2,120.1 583.0,117.5 583.7,114.8 584.5,112.0 585.2,109.0 586.0,105.9 586.7,102.7 587.5,99.4 588.2,96.0 589.0,92.5 589.7,88.9 590.5,85.3 591.2,81.5 592.0,77.8 592.7,74.1 593.5,70.4 594.2,66.8 595.0,63.3 595.7,60.0 596.5,57.0 597.2,54.3 598.0,51.9 598.7,50.0 599.5,48.5 600.2,47.6 601.0,47.1 601.7,47.2 602.5,47.8 603.2,48.9 604.0,50.5 604.7,52.5 605.5,54.9 606.2,57.7 607.0,60.7 607.7,63.9 608.5,67.4 609.2,70.9 610.0,74.5 610.7,78.2 611.5,81.8 612.2,85.5 613.0,89.0 613.7,92.5 614.5,95.9 615.2,99.2 616.0,102.4 616.7,105.4 617.5,108.3 618.2,111.1 619.0,113.7 619.7,116.3 620.5,118.7 621.2,120.9 622.0,123.1 622.7,125.2 623.5,127.1 624.2,128.9 625.0,130.7 625.7,132.3 626.5,133.9 627.2,135.4 628.0,136.8 628.7,138.1 629.5,139.4 630.2,140.6 631.0,141.7 631.7,142.8 632.5,143.8 633.2,144.7 634.0,145.7 634.7,146.5 635.5,147.4 636.2,148.1 637.0,148.9 637.7,149.6 638.5,150.3 639.2,150.9 640.0,151.5 640.7,152.1 641.5,152.7 642.2,153.2 643.0,153.7 643.7,154.2 644.5,154.6 645.2,155.1 646.0,155.5 646.7,155.9 647.5,156.3 648.2,156.7 649.0,157.0 649.7,157.3 650.5,157.7 651.2,158.0 652.0,158.3 652.7,158.5 653.5,158.8 654.2,159.1 655.0,159.3 655.7,159.6 656.5,159.8 657.2,160.0 658.0,160.2 658.7,160.4 659.5,160.6 660.2,160.8 661.0,161.0 661.7,161.2 662.5,161.3 663.2,161.5 664.0,161.7 664.7,161.8 665.5,161.9 666.2,162.1 667.0,162.2 667.7,162.3 668.5,162.5 669.2,162.6 670.0,162.7 670.7,162.8 671.5,162.9 672.2,163.0 673.0,163.1 673.7,163.2 674.5,163.3 675.2,163.4 676.0,163.5 676.7,163.5 677.5,163.6 678.2,163.7 679.0,163.8 679.7,163.8" fill="none" stroke="#9020a0" stroke-width="1.5" stroke-linejoin="round"/>
<path d="M508.7,170.9 509.4,170.9 510.2,170.9 510.9,170.9 511.7,170.9 512.5,170.8 513.2,170.8 514.0,170.8 514.7,170.8 515.5,170.8 516.2,170.7 517.0,170.7 517.7,170.7 518.5,170.7 519.2,170.7 520.0,170.6 520.7,170.6 521.5,170.6 522.2,170.6 523.0,170.5 523.7,170.5 524.5,170.5 525.2,170.4 526.0,170.4 526.7,170.4 527.5,170.3 528.2,170.3 529.0,170.3 529.7,170.2 530.5,170.2 531.2,170.2 532.0,170.1 532.7,170.1 533.5,170.0 534.2,170.0 535.0,169.9 535.7,169.9 536.5,169.8 537.2,169.8 538.0,169.7 538.7,169.7 539.5,169.6 540.2,169.5 541.0,169.4 541.7,169.3 542.5,169.3 543.2,169.2 544.0,169.1 544.7,168.9 545.5,168.8 546.2,168.7 547.0,168.5 547.7,168.4 548.5,168.2 549.2,168.0 550.0,167.8 550.7,167.6 551.5,167.4 552.2,167.1 553.0,166.8 553.7,166.5 554.5,166.2 555.2,165.8 556.0,165.4 556.7,164.9 557.5,164.5 558.2,163.9 559.0,163.4 559.7,162.7 560.5,162.0 561.2,161.3 562.0,160.5 562.7,159.6 563.5,158.7 564.2,157.6 565.0,156.6 565.7,155.4 566.5,154.2 567.2,152.9 568.0,151.5 568.7,150.0 569.5,148.4 570.2,146.7 571.0,145.0 571.7,143.1 572.5,141.2 573.2,139.1 574.0,137.0 574.7,134.7 575.5,132.3 576.2,129.9 577.0,127.3 577.7,124.7 578.5,122.0 579.2,119.1 580.0,116.2 580.7,113.2 581.5,110.1 582.2,107.0 583.0,103.8 583.7,100.5 584.5,97.1 585.2,93.7 586.0,90.3 586.7,86.9 587.5,83.4 588.2,79.9 589.0,76.5 589.7,73.0 590.5,69.7 591.2,66.3 592.0,63.1 592.7,60.0 593.5,57.1 594.2,54.3 595.0,51.7 595.7,49.4 596.5,47.4 597.2,45.8 598.0,44.5 598.7,43.5 599.5,43.0 600.2,42.9 601.0,43.3 601.7,44.1 602.5,45.4 603.2,47.1 604.0,49.1 604.7,51.5 605.5,54.2 606.2,57.1 607.0,60.2 607.7,63.4 608.5,66.8 609.2,70.2 610.0,73.6 610.7,77.1 611.5,80.5 612.2,83.9 613.0,87.2 613.7,90.5 614.5,93.7 615.2,96.8 616.0,99.9 616.7,102.8 617.5,105.6 618.2,108.4 619.0,111.0 619.7,113.6 620.5,116.1 621.2,118.4 622.0,120.7 622.7,122.9 623.5,125.0 624.2,127.0 625.0,129.0 625.7,130.8 626.5,132.6 627.2,134.3 628.0,135.9 628.7,137.5 629.5,138.9 630.2,140.4 631.0,141.7 631.7,143.0 632.5,144.2 633.2,145.3 634.0,146.4 634.7,147.4 635.5,148.4 636.2,149.3 637.0,150.2 637.7,151.1 638.5,151.8 639.2,152.6 640.0,153.3 640.7,153.9 641.5,154.5 642.2,155.1 643.0,155.7 643.7,156.2 644.5,156.7 645.2,157.1 646.0,157.5 646.7,157.9 647.5,158.3 648.2,158.7 649.0,159.0 649.7,159.3 650.5,159.6 651.2,159.9 652.0,160.1 652.7,160.4 653.5,160.6 654.2,160.8 655.0,161.0 655.7,161.2 656.5,161.4 657.2,161.5 658.0,161.7 658.7,161.8 659.5,162.0 660.2,162.1 661.0,162.2 661.7,162.3 662.5,162.5 663.2,162.6 664.0,162.7 664.7,162.7 665.5,162.8 666.2,162.9 667.0,163.0 667.7,163.1 668.5,163.1 669.2,163.2 670.0,163.3 670.7,163.3 671.5,163.4 672.2,163.4 673.0,163.5 673.7,163.5 674.5,163.6 675.2,163.6 676.0,163.7 676.7,163.7 677.5,163.7 678.2,163.8 679.0,163.8 679.7,163.8" fill="none" stroke="#801010" stroke-width="1.5" stroke-linejoin="round"/>
<path d="M508.7,171.2 509.4,171.1 510.2,171.1 510.9,171.1 511.7,171.1 512.5,171.1 513.2,171.0 514.0,171.0 514.7,171.0 515.5,171.0 516.2,171.0 517.0,170.9 517.7,170.9 518.5,170.9 519.2,170.9 520.0,170.8 520.7,170.8 521.5,170.8 522.2,170.8 523.0,170.7 523.7,170.7 524.5,170.7 525.2,170.6 526.0,170.6 526.7,170.6 527.5,170.5 528.2,170.5 529.0,170.5 529.7,170.4 530.5,170.4 531.2,170.4 532.0,170.3 532.7,170.3 533.5,170.2 534.2,170.2 535.0,170.1 535.7,170.1 536.5,170.0 537.2,169.9 538.0,169.9 538.7,169.8 539.5,169.7 540.2,169.7 541.0,169.6 541.7,169.5 542.5,169.4 543.2,169.3 544.0,169.2 544.7,169.1 545.5,168.9 546.2,168.8 547.0,168.7 547.7,168.5 548.5,168.3 549.2,168.1 550.0,167.9 550.7,167.7 551.5,167.4 552.2,167.2 553.0,166.9 553.7,166.5 554.5,166.2 555.2,165.8 556.0,165.4 556.7,164.9 557.5,164.4 558.2,163.9 559.0,163.3 559.7,162.7 560.5,162.0 561.2,161.2 562.0,160.4 562.7,159.5 563.5,158.6 564.2,157.6 565.0,156.5 565.7,155.3 566.5,154.1 567.2,152.8 568.0,151.4 568.7,149.9 569.5,148.3 570.2,146.7 571.0,144.9 571.7,143.1 572.5,141.1 573.2,139.0 574.0,136.9 574.7,134.7 575.5,132.3 576.2,129.9 577.0,127.3 577.7,124.7 578.5,122.0 579.2,119.1 580.0,116.2 580.7,113.2 581.5,110.2 582.2,107.0 583.0,103.8 583.7,100.5 584.5,97.2 585.2,93.8 586.0,90.4 586.7,86.9 587.5,83.5 588.2,80.0 589.0,76.5 589.7,73.1 590.5,69.6 591.2,66.3 592.0,63.0 592.7,59.9 593.5,56.9 594.2,54.0 595.0,51.4 595.7,49.0 596.5,46.9 597.2,45.1 598.0,43.7 598.7,42.6 599.5,42.0 600.2,41.7 601.0,42.0 601.7,42.8 602.5,44.0 603.2,45.8 604.0,48.0 604.7,50.6 605.5,53.5 606.2,56.7 607.0,60.2 607.7,63.8 608.5,67.5 609.2,71.3 610.0,75.1 610.7,78.9 611.5,82.7 612.2,86.4 613.0,90.0 613.7,93.5 614.5,96.9 615.2,100.2 616.0,103.3 616.7,106.3 617.5,109.1 618.2,111.9 619.0,114.5 619.7,116.9 620.5,119.3 621.2,121.5 622.0,123.6 622.7,125.6 623.5,127.5 624.2,129.3 625.0,131.0 625.7,132.6 626.5,134.1 627.2,135.6 628.0,136.9 628.7,138.2 629.5,139.5 630.2,140.6 631.0,141.7 631.7,142.8 632.5,143.8 633.2,144.7 634.0,145.6 634.7,146.5 635.5,147.3 636.2,148.1 637.0,148.8 637.7,149.5 638.5,150.2 639.2,150.8 640.0,151.4 640.7,152.0 641.5,152.6 642.2,153.1 643.0,153.6 643.7,154.1 644.5,154.5 645.2,155.0 646.0,155.4 646.7,155.8 647.5,156.2 648.2,156.6 649.0,156.9 649.7,157.3 650.5,157.6 651.2,157.9 652.0,158.2 652.7,158.5 653.5,158.8 654.2,159.0 655.0,159.3 655.7,159.5 656.5,159.8 657.2,160.0 658.0,160.2 658.7,160.4 659.5,160.7 660.2,160.8 661.0,161.0 661.7,161.2 662.5,161.4 663.2,161.6 664.0,161.7 664.7,161.9 665.5,162.0 666.2,162.2 667.0,162.3 667.7,162.5 668.5,162.6 669.2,162.7 670.0,162.9 670.7,163.0 671.5,163.1 672.2,163.2 673.0,163.3 673.7,163.4 674.5,163.5 675.2,163.6 676.0,163.7 676.7,163.8 677.5,163.9 678.2,164.0 679.0,164.1 679.7,164.1" fill="none" stroke="#808020" stroke-width="1.5" stroke-linejoin="round"/>
</g>
<line x1="508.70" y1="12.00" x2="678.80" y2="12.00" stroke="#555" stroke-width="2.0"/>
<line x1="678.80" y1="12.00" x2="678.80" y2="181.40" stroke="#1a1a1a" stroke-width="1.2"/>
<line x1="508.70" y1="12.00" x2="508.70" y2="188.30" stroke="#1a1a1a" stroke-width="1.3"/>
<line x1="508.70" y1="181.40" x2="678.80" y2="181.40" stroke="#1a1a1a" stroke-width="1.3"/>
<line x1="501.00" y1="152.20" x2="508.70" y2="152.20" stroke="#1a1a1a" stroke-width="1.2"/>
<text x="486.80" y="154.60" font-family="Liberation Serif" font-weight="bold" font-size="10.00" fill="#111" stroke="#111" stroke-width="0.22" >20</text>
<line x1="501.00" y1="119.15" x2="508.70" y2="119.15" stroke="#1a1a1a" stroke-width="1.2"/>
<text x="486.80" y="121.55" font-family="Liberation Serif" font-weight="bold" font-size="10.00" fill="#111" stroke="#111" stroke-width="0.22" >40</text>
<line x1="501.00" y1="86.10" x2="508.70" y2="86.10" stroke="#1a1a1a" stroke-width="1.2"/>
<text x="486.80" y="88.50" font-family="Liberation Serif" font-weight="bold" font-size="10.00" fill="#111" stroke="#111" stroke-width="0.22" >60</text>
<line x1="501.00" y1="53.05" x2="508.70" y2="53.05" stroke="#1a1a1a" stroke-width="1.2"/>
<text x="486.80" y="55.45" font-family="Liberation Serif" font-weight="bold" font-size="10.00" fill="#111" stroke="#111" stroke-width="0.22" >80</text>
<line x1="501.00" y1="20.00" x2="508.70" y2="20.00" stroke="#1a1a1a" stroke-width="1.2"/>
<text x="481.80" y="22.40" font-family="Liberation Serif" font-weight="bold" font-size="10.00" fill="#111" stroke="#111" stroke-width="0.22" >100</text>
<line x1="508.70" y1="181.40" x2="508.70" y2="188.30" stroke="#1a1a1a" stroke-width="1.2"/>
<text x="502.45" y="201.60" font-family="Liberation Serif" font-weight="bold" font-size="10.00" fill="#111" stroke="#111" stroke-width="0.22" >0.0</text>
<line x1="533.70" y1="181.40" x2="533.70" y2="188.30" stroke="#1a1a1a" stroke-width="1.2"/>
<text x="527.50" y="201.60" font-family="Liberation Serif" font-weight="bold" font-size="10.00" fill="#111" stroke="#111" stroke-width="0.22" >0.1</text>
<line x1="558.70" y1="181.40" x2="558.70" y2="188.30" stroke="#1a1a1a" stroke-width="1.2"/>
<text x="552.45" y="201.60" font-family="Liberation Serif" font-weight="bold" font-size="10.00" fill="#111" stroke="#111" stroke-width="0.22" >0.2</text>
<line x1="583.70" y1="181.40" x2="583.70" y2="188.30" stroke="#1a1a1a" stroke-width="1.2"/>
<text x="577.40" y="201.60" font-family="Liberation Serif" font-weight="bold" font-size="10.00" fill="#111" stroke="#111" stroke-width="0.22" >0.3</text>
<line x1="608.70" y1="181.40" x2="608.70" y2="188.30" stroke="#1a1a1a" stroke-width="1.2"/>
<text x="602.35" y="201.60" font-family="Liberation Serif" font-weight="bold" font-size="10.00" fill="#111" stroke="#111" stroke-width="0.22" >0.4</text>
<line x1="633.70" y1="181.40" x2="633.70" y2="188.30" stroke="#1a1a1a" stroke-width="1.2"/>
<text x="627.45" y="201.60" font-family="Liberation Serif" font-weight="bold" font-size="10.00" fill="#111" stroke="#111" stroke-width="0.22" >0.5</text>
<line x1="658.70" y1="181.40" x2="658.70" y2="188.30" stroke="#1a1a1a" stroke-width="1.2"/>
<text x="652.40" y="201.60" font-family="Liberation Serif" font-weight="bold" font-size="10.00" fill="#111" stroke="#111" stroke-width="0.22" >0.6</text>
<text x="552.41" y="220.90" font-family="Liberation Serif" font-weight="bold" font-size="9.54" fill="#111" stroke="#111" stroke-width="0.22" >Potential (V)</text>
<text transform="translate(483.00,136.79) rotate(-90)" font-family="Liberation Sans" font-weight="bold" font-size="9.69" fill="#111" stroke="#111" stroke-width="0.22">Current (&#956;A)</text>
<text x="591.37" y="26.80" font-size="6.28" fill="#8b1a1a" stroke="#8b1a1a" stroke-width="0.22"><tspan font-family="Liberation Serif" font-weight="bold">MXOF</tspan></text>
<text x="610.79" y="26.80" font-family="Liberation Serif" font-weight="bold" font-size="5.37" fill="#8b1a1a" stroke="#8b1a1a" stroke-width="0.22" >- Increasing Concentration</text>
<text x="645.72" y="61.50" font-family="Liberation Sans" font-weight="bold" font-size="6.01" fill="#111" stroke="#111" stroke-width="0.22" >900 &#956;L</text>
<text x="646.43" y="96.60" font-family="Liberation Sans" font-weight="bold" font-size="6.10" fill="#111" stroke="#111" stroke-width="0.22" >100 &#956;L</text>
<line x1="655.80" y1="66.90" x2="655.80" y2="85.70" stroke="#111" stroke-width="1.1"/>
<path d="M651.80,79.50 L655.80,86.00 L659.80,79.50" fill="none" stroke="#111" stroke-width="1.1"/>
<line x1="56.20" y1="243.83" x2="224.30" y2="243.83" stroke="#333" stroke-width="2.0"/>
<line x1="224.30" y1="243.83" x2="224.30" y2="416.67" stroke="#1a1a1a" stroke-width="1.3"/>
<line x1="56.20" y1="243.83" x2="56.20" y2="424.20" stroke="#1a1a1a" stroke-width="1.3"/>
<line x1="56.20" y1="416.67" x2="224.30" y2="416.67" stroke="#666" stroke-width="2.0"/>
<line x1="49.00" y1="408.50" x2="56.20" y2="408.50" stroke="#1a1a1a" stroke-width="1.2"/>
<text x="31.63" y="411.80" font-family="Liberation Sans" font-weight="bold" font-size="10.80" fill="#111" stroke="#111" stroke-width="0.22" >28</text>
<line x1="49.00" y1="369.70" x2="56.20" y2="369.70" stroke="#1a1a1a" stroke-width="1.2"/>
<text x="31.74" y="373.00" font-family="Liberation Sans" font-weight="bold" font-size="10.80" fill="#111" stroke="#111" stroke-width="0.22" >32</text>
<line x1="49.00" y1="330.90" x2="56.20" y2="330.90" stroke="#1a1a1a" stroke-width="1.2"/>
<text x="31.74" y="334.20" font-family="Liberation Sans" font-weight="bold" font-size="10.80" fill="#111" stroke="#111" stroke-width="0.22" >36</text>
<line x1="49.00" y1="292.10" x2="56.20" y2="292.10" stroke="#1a1a1a" stroke-width="1.2"/>
<text x="31.74" y="295.40" font-family="Liberation Sans" font-weight="bold" font-size="10.80" fill="#111" stroke="#111" stroke-width="0.22" >40</text>
<line x1="49.00" y1="253.30" x2="56.20" y2="253.30" stroke="#1a1a1a" stroke-width="1.2"/>
<text x="31.41" y="256.60" font-family="Liberation Sans" font-weight="bold" font-size="10.80" fill="#111" stroke="#111" stroke-width="0.22" >44</text>
<line x1="73.60" y1="416.67" x2="73.60" y2="424.20" stroke="#1a1a1a" stroke-width="1.2"/>
<text x="65.35" y="436.60" font-family="Liberation Sans" font-weight="bold" font-size="10.30" fill="#111" stroke="#111" stroke-width="0.22" >200</text>
<line x1="67.11" y1="439.40" x2="69.71" y2="439.40" stroke="#9a9a9a" stroke-width="0.9"/>
<line x1="72.60" y1="439.40" x2="75.20" y2="439.40" stroke="#9a9a9a" stroke-width="0.9"/>
<line x1="78.09" y1="439.40" x2="80.69" y2="439.40" stroke="#9a9a9a" stroke-width="0.9"/>
<line x1="108.70" y1="416.67" x2="108.70" y2="424.20" stroke="#1a1a1a" stroke-width="1.2"/>
<text x="100.55" y="436.60" font-family="Liberation Sans" font-weight="bold" font-size="10.30" fill="#111" stroke="#111" stroke-width="0.22" >400</text>
<line x1="102.14" y1="439.40" x2="104.74" y2="439.40" stroke="#9a9a9a" stroke-width="0.9"/>
<line x1="107.70" y1="439.40" x2="110.30" y2="439.40" stroke="#9a9a9a" stroke-width="0.9"/>
<line x1="113.26" y1="439.40" x2="115.86" y2="439.40" stroke="#9a9a9a" stroke-width="0.9"/>
<line x1="143.80" y1="416.67" x2="143.80" y2="424.20" stroke="#1a1a1a" stroke-width="1.2"/>
<text x="135.50" y="436.60" font-family="Liberation Sans" font-weight="bold" font-size="10.30" fill="#111" stroke="#111" stroke-width="0.22" >600</text>
<line x1="137.34" y1="439.40" x2="139.94" y2="439.40" stroke="#9a9a9a" stroke-width="0.9"/>
<line x1="142.80" y1="439.40" x2="145.40" y2="439.40" stroke="#9a9a9a" stroke-width="0.9"/>
<line x1="148.26" y1="439.40" x2="150.86" y2="439.40" stroke="#9a9a9a" stroke-width="0.9"/>
<line x1="179.00" y1="416.67" x2="179.00" y2="424.20" stroke="#1a1a1a" stroke-width="1.2"/>
<text x="170.75" y="436.60" font-family="Liberation Sans" font-weight="bold" font-size="10.30" fill="#111" stroke="#111" stroke-width="0.22" >800</text>
<line x1="172.51" y1="439.40" x2="175.11" y2="439.40" stroke="#9a9a9a" stroke-width="0.9"/>
<line x1="178.00" y1="439.40" x2="180.60" y2="439.40" stroke="#9a9a9a" stroke-width="0.9"/>
<line x1="183.49" y1="439.40" x2="186.09" y2="439.40" stroke="#9a9a9a" stroke-width="0.9"/>
<line x1="213.70" y1="416.67" x2="213.70" y2="424.20" stroke="#1a1a1a" stroke-width="1.2"/>
<text x="202.41" y="436.60" font-family="Liberation Sans" font-weight="bold" font-size="10.30" fill="#111" stroke="#111" stroke-width="0.22" >1000</text>
<line x1="204.47" y1="439.40" x2="207.07" y2="439.40" stroke="#9a9a9a" stroke-width="0.9"/>
<line x1="209.96" y1="439.40" x2="212.56" y2="439.40" stroke="#9a9a9a" stroke-width="0.9"/>
<line x1="215.44" y1="439.40" x2="218.04" y2="439.40" stroke="#9a9a9a" stroke-width="0.9"/>
<line x1="220.93" y1="439.40" x2="223.53" y2="439.40" stroke="#9a9a9a" stroke-width="0.9"/>
<text x="52.72" y="436.60" font-family="Liberation Sans" font-weight="bold" font-size="10.30" fill="#111" stroke="#111" stroke-width="0.22" >0</text>
<text x="96.77" y="458.00" font-size="10.83" fill="#111" stroke="#111" stroke-width="0.22"><tspan font-family="Liberation Sans" font-weight="bold">Concentration </tspan><tspan font-family="Liberation Sans" font-weight="normal">(&#956;L)</tspan></text>
<text transform="translate(23.70,369.35) rotate(-90)" font-size="11.35" fill="#111" stroke="#111" stroke-width="0.22"><tspan font-family="Liberation Sans" font-weight="bold">Current </tspan><tspan font-family="Liberation Sans" font-weight="normal">(&#956;A)</tspan></text>
<circle cx="72.90" cy="272.70" r="6.0" fill="url(#rg)"/>
<line x1="72.90" y1="268.80" x2="72.90" y2="270.40" stroke="#111" stroke-width="1.0"/>
<line x1="72.90" y1="275.30" x2="72.90" y2="276.90" stroke="#111" stroke-width="1.0"/>
<line x1="69.10" y1="270.40" x2="76.70" y2="270.40" stroke="#111" stroke-width="1.4"/>
<line x1="69.10" y1="275.30" x2="76.70" y2="275.30" stroke="#111" stroke-width="1.4"/>
<circle cx="89.65" cy="292.10" r="6.0" fill="url(#rg)"/>
<line x1="89.65" y1="286.90" x2="89.65" y2="288.50" stroke="#111" stroke-width="1.0"/>
<line x1="89.65" y1="295.30" x2="89.65" y2="296.90" stroke="#111" stroke-width="1.0"/>
<line x1="85.85" y1="288.50" x2="93.45" y2="288.50" stroke="#111" stroke-width="1.4"/>
<line x1="85.85" y1="295.30" x2="93.45" y2="295.30" stroke="#111" stroke-width="1.4"/>
<circle cx="106.40" cy="321.20" r="6.0" fill="url(#rg)"/>
<line x1="106.40" y1="315.10" x2="106.40" y2="316.70" stroke="#111" stroke-width="1.0"/>
<line x1="106.40" y1="326.00" x2="106.40" y2="327.60" stroke="#111" stroke-width="1.0"/>
<line x1="102.60" y1="316.70" x2="110.20" y2="316.70" stroke="#111" stroke-width="1.4"/>
<line x1="102.60" y1="326.00" x2="110.20" y2="326.00" stroke="#111" stroke-width="1.4"/>
<circle cx="123.15" cy="330.90" r="6.0" fill="url(#rg)"/>
<line x1="123.15" y1="324.20" x2="123.15" y2="325.80" stroke="#111" stroke-width="1.0"/>
<line x1="123.15" y1="335.50" x2="123.15" y2="337.10" stroke="#111" stroke-width="1.0"/>
<line x1="119.35" y1="325.80" x2="126.95" y2="325.80" stroke="#111" stroke-width="1.4"/>
<line x1="119.35" y1="335.50" x2="126.95" y2="335.50" stroke="#111" stroke-width="1.4"/>
<circle cx="139.90" cy="340.60" r="6.0" fill="url(#rg)"/>
<line x1="139.90" y1="334.20" x2="139.90" y2="335.80" stroke="#111" stroke-width="1.0"/>
<line x1="139.90" y1="345.20" x2="139.90" y2="346.80" stroke="#111" stroke-width="1.0"/>
<line x1="136.10" y1="335.80" x2="143.70" y2="335.80" stroke="#111" stroke-width="1.4"/>
<line x1="136.10" y1="345.20" x2="143.70" y2="345.20" stroke="#111" stroke-width="1.4"/>
<circle cx="156.65" cy="350.30" r="6.0" fill="url(#rg)"/>
<line x1="156.65" y1="343.20" x2="156.65" y2="344.80" stroke="#111" stroke-width="1.0"/>
<line x1="156.65" y1="356.50" x2="156.65" y2="358.10" stroke="#111" stroke-width="1.0"/>
<line x1="152.85" y1="344.80" x2="160.45" y2="344.80" stroke="#111" stroke-width="1.4"/>
<line x1="152.85" y1="356.50" x2="160.45" y2="356.50" stroke="#111" stroke-width="1.4"/>
<circle cx="173.40" cy="369.70" r="6.0" fill="url(#rg)"/>
<line x1="173.40" y1="363.70" x2="173.40" y2="365.30" stroke="#111" stroke-width="1.0"/>
<line x1="173.40" y1="375.00" x2="173.40" y2="376.60" stroke="#111" stroke-width="1.0"/>
<line x1="169.60" y1="365.30" x2="177.20" y2="365.30" stroke="#111" stroke-width="1.4"/>
<line x1="169.60" y1="375.00" x2="177.20" y2="375.00" stroke="#111" stroke-width="1.4"/>
<circle cx="190.15" cy="389.10" r="6.0" fill="url(#rg)"/>
<line x1="190.15" y1="383.90" x2="190.15" y2="385.50" stroke="#111" stroke-width="1.0"/>
<line x1="190.15" y1="393.30" x2="190.15" y2="394.90" stroke="#111" stroke-width="1.0"/>
<line x1="186.35" y1="385.50" x2="193.95" y2="385.50" stroke="#111" stroke-width="1.4"/>
<line x1="186.35" y1="393.30" x2="193.95" y2="393.30" stroke="#111" stroke-width="1.4"/>
<circle cx="206.90" cy="398.80" r="6.0" fill="url(#rg)"/>
<line x1="206.90" y1="392.80" x2="206.90" y2="394.40" stroke="#111" stroke-width="1.0"/>
<line x1="206.90" y1="403.10" x2="206.90" y2="404.70" stroke="#111" stroke-width="1.0"/>
<line x1="203.10" y1="394.40" x2="210.70" y2="394.40" stroke="#111" stroke-width="1.4"/>
<line x1="203.10" y1="403.10" x2="210.70" y2="403.10" stroke="#111" stroke-width="1.4"/>
<line x1="72.80" y1="276.60" x2="207.80" y2="403.60" stroke="#8a8a22" stroke-width="1.4"/>
<text x="187.79" y="261.50" font-family="Liberation Serif" font-weight="bold" font-size="10.26" fill="#1a1a9a" stroke="#1a1a9a" stroke-width="0.22" >MXene</text>
<text x="63.53" y="382.10" font-family="Liberation Sans" font-weight="bold" font-size="6.91" fill="#111" stroke="#111" stroke-width="0.22" >y = -1.59 x + 5.15</text>
<text x="64.17" y="395.70" font-family="Liberation Sans" font-weight="bold" font-size="7.62" fill="#111" stroke="#111" stroke-width="0.22" >R</text>
<text x="69.62" y="391.30" font-family="Liberation Sans" font-weight="bold" font-size="6.12" fill="#111" stroke="#111" stroke-width="0.22" >2</text>
<text x="73.32" y="395.70" font-family="Liberation Sans" font-weight="bold" font-size="7.03" fill="#111" stroke="#111" stroke-width="0.22" >=0.98</text>
<line x1="284.00" y1="243.60" x2="451.60" y2="243.60" stroke="#333" stroke-width="1.6"/>
<line x1="451.60" y1="243.60" x2="451.60" y2="417.90" stroke="#555" stroke-width="1.3"/>
<line x1="284.00" y1="243.60" x2="284.00" y2="425.70" stroke="#444" stroke-width="1.4"/>
<line x1="284.00" y1="417.90" x2="451.60" y2="417.90" stroke="#333" stroke-width="1.4"/>
<line x1="276.20" y1="400.50" x2="284.00" y2="400.50" stroke="#444" stroke-width="1.3"/>
<text x="260.80" y="402.10" font-family="Liberation Sans" font-weight="bold" font-size="10.00" fill="#111" stroke="#111" stroke-width="0.22" >50</text>
<line x1="276.20" y1="365.55" x2="284.00" y2="365.55" stroke="#444" stroke-width="1.3"/>
<text x="260.80" y="367.15" font-family="Liberation Sans" font-weight="bold" font-size="10.00" fill="#111" stroke="#111" stroke-width="0.22" >60</text>
<line x1="276.20" y1="330.60" x2="284.00" y2="330.60" stroke="#444" stroke-width="1.3"/>
<text x="260.80" y="332.20" font-family="Liberation Sans" font-weight="bold" font-size="10.00" fill="#111" stroke="#111" stroke-width="0.22" >70</text>
<line x1="276.20" y1="295.65" x2="284.00" y2="295.65" stroke="#444" stroke-width="1.3"/>
<text x="260.80" y="297.25" font-family="Liberation Sans" font-weight="bold" font-size="10.00" fill="#111" stroke="#111" stroke-width="0.22" >80</text>
<line x1="276.20" y1="260.70" x2="284.00" y2="260.70" stroke="#444" stroke-width="1.3"/>
<text x="260.80" y="262.30" font-family="Liberation Sans" font-weight="bold" font-size="10.00" fill="#111" stroke="#111" stroke-width="0.22" >90</text>
<line x1="284.00" y1="417.90" x2="284.00" y2="425.70" stroke="#1a1a1a" stroke-width="1.2"/>
<text x="281.34" y="437.80" font-family="Liberation Sans" font-weight="bold" font-size="9.50" fill="#111" stroke="#111" stroke-width="0.22" >0</text>
<line x1="314.50" y1="417.90" x2="314.50" y2="425.70" stroke="#1a1a1a" stroke-width="1.2"/>
<text x="306.61" y="437.80" font-family="Liberation Sans" font-weight="bold" font-size="9.50" fill="#111" stroke="#111" stroke-width="0.22" >200</text>
<line x1="345.00" y1="417.90" x2="345.00" y2="425.70" stroke="#1a1a1a" stroke-width="1.2"/>
<text x="337.21" y="437.80" font-family="Liberation Sans" font-weight="bold" font-size="9.50" fill="#111" stroke="#111" stroke-width="0.22" >400</text>
<line x1="375.50" y1="417.90" x2="375.50" y2="425.70" stroke="#1a1a1a" stroke-width="1.2"/>
<text x="367.57" y="437.80" font-family="Liberation Sans" font-weight="bold" font-size="9.50" fill="#111" stroke="#111" stroke-width="0.22" >600</text>
<line x1="406.00" y1="417.90" x2="406.00" y2="425.70" stroke="#1a1a1a" stroke-width="1.2"/>
<text x="398.11" y="437.80" font-family="Liberation Sans" font-weight="bold" font-size="9.50" fill="#111" stroke="#111" stroke-width="0.22" >800</text>
<line x1="436.50" y1="417.90" x2="436.50" y2="425.70" stroke="#1a1a1a" stroke-width="1.2"/>
<text x="425.81" y="437.80" font-family="Liberation Sans" font-weight="bold" font-size="9.50" fill="#111" stroke="#111" stroke-width="0.22" >1000</text>
<text x="319.13" y="456.10" font-family="Liberation Sans" font-weight="bold" font-size="9.15" fill="#111" stroke="#111" stroke-width="0.22" >Concentration (&#956;L)</text>
<text transform="translate(257.00,373.20) rotate(-90)" font-family="Liberation Sans" font-weight="bold" font-size="9.89" fill="#111" stroke="#111" stroke-width="0.22">Current ((&#956;A)</text>
<circle cx="299.25" cy="267.69" r="4.3" fill="#1414f0"/>
<path d="M295.15,266.79 A4.3,4.3 0 0 1 303.35,266.79 Z" fill="#9a0c0c"/>
<line x1="296.25" y1="265.09" x2="302.25" y2="265.09" stroke="#e81010" stroke-width="1.0"/>
<line x1="295.35" y1="267.09" x2="303.15" y2="267.09" stroke="#111" stroke-width="0.9"/>
<line x1="299.25" y1="267.09" x2="299.25" y2="271.99" stroke="#111" stroke-width="1.0"/>
<line x1="297.05" y1="270.09" x2="301.45" y2="270.09" stroke="#111" stroke-width="0.9"/>
<circle cx="329.75" cy="306.13" r="4.3" fill="#1414f0"/>
<path d="M325.65,305.24 A4.3,4.3 0 0 1 333.85,305.24 Z" fill="#9a0c0c"/>
<line x1="326.75" y1="303.53" x2="332.75" y2="303.53" stroke="#e81010" stroke-width="1.0"/>
<line x1="325.85" y1="305.53" x2="333.65" y2="305.53" stroke="#111" stroke-width="0.9"/>
<line x1="329.75" y1="305.53" x2="329.75" y2="310.44" stroke="#111" stroke-width="1.0"/>
<line x1="327.55" y1="308.53" x2="331.95" y2="308.53" stroke="#111" stroke-width="0.9"/>
<circle cx="345.00" cy="309.63" r="4.3" fill="#1414f0"/>
<path d="M340.90,308.73 A4.3,4.3 0 0 1 349.10,308.73 Z" fill="#9a0c0c"/>
<line x1="342.00" y1="307.03" x2="348.00" y2="307.03" stroke="#e81010" stroke-width="1.0"/>
<line x1="341.10" y1="309.03" x2="348.90" y2="309.03" stroke="#111" stroke-width="0.9"/>
<line x1="345.00" y1="309.03" x2="345.00" y2="313.93" stroke="#111" stroke-width="1.0"/>
<line x1="342.80" y1="312.03" x2="347.20" y2="312.03" stroke="#111" stroke-width="0.9"/>
<circle cx="360.25" cy="334.09" r="4.3" fill="#1414f0"/>
<path d="M356.15,333.19 A4.3,4.3 0 0 1 364.35,333.19 Z" fill="#9a0c0c"/>
<line x1="357.25" y1="331.49" x2="363.25" y2="331.49" stroke="#e81010" stroke-width="1.0"/>
<line x1="356.35" y1="333.49" x2="364.15" y2="333.49" stroke="#111" stroke-width="0.9"/>
<line x1="360.25" y1="333.49" x2="360.25" y2="338.39" stroke="#111" stroke-width="1.0"/>
<line x1="358.05" y1="336.49" x2="362.45" y2="336.49" stroke="#111" stroke-width="0.9"/>
<circle cx="375.50" cy="351.57" r="4.3" fill="#1414f0"/>
<path d="M371.40,350.67 A4.3,4.3 0 0 1 379.60,350.67 Z" fill="#9a0c0c"/>
<line x1="372.50" y1="348.97" x2="378.50" y2="348.97" stroke="#e81010" stroke-width="1.0"/>
<line x1="371.60" y1="350.97" x2="379.40" y2="350.97" stroke="#111" stroke-width="0.9"/>
<line x1="375.50" y1="350.97" x2="375.50" y2="355.87" stroke="#111" stroke-width="1.0"/>
<line x1="373.30" y1="353.97" x2="377.70" y2="353.97" stroke="#111" stroke-width="0.9"/>
<circle cx="390.75" cy="355.06" r="4.3" fill="#1414f0"/>
<path d="M386.65,354.17 A4.3,4.3 0 0 1 394.85,354.17 Z" fill="#9a0c0c"/>
<line x1="387.75" y1="352.46" x2="393.75" y2="352.46" stroke="#e81010" stroke-width="1.0"/>
<line x1="386.85" y1="354.46" x2="394.65" y2="354.46" stroke="#111" stroke-width="0.9"/>
<line x1="390.75" y1="354.46" x2="390.75" y2="359.37" stroke="#111" stroke-width="1.0"/>
<line x1="388.55" y1="357.46" x2="392.95" y2="357.46" stroke="#111" stroke-width="0.9"/>
<circle cx="406.00" cy="358.56" r="4.3" fill="#1414f0"/>
<path d="M401.90,357.66 A4.3,4.3 0 0 1 410.10,357.66 Z" fill="#9a0c0c"/>
<line x1="403.00" y1="355.96" x2="409.00" y2="355.96" stroke="#e81010" stroke-width="1.0"/>
<line x1="402.10" y1="357.96" x2="409.90" y2="357.96" stroke="#111" stroke-width="0.9"/>
<line x1="406.00" y1="357.96" x2="406.00" y2="362.86" stroke="#111" stroke-width="1.0"/>
<line x1="403.80" y1="360.96" x2="408.20" y2="360.96" stroke="#111" stroke-width="0.9"/>
<circle cx="421.25" cy="376.03" r="4.3" fill="#1414f0"/>
<path d="M417.15,375.13 A4.3,4.3 0 0 1 425.35,375.13 Z" fill="#9a0c0c"/>
<line x1="418.25" y1="373.43" x2="424.25" y2="373.43" stroke="#e81010" stroke-width="1.0"/>
<line x1="417.35" y1="375.43" x2="425.15" y2="375.43" stroke="#111" stroke-width="0.9"/>
<line x1="421.25" y1="375.43" x2="421.25" y2="380.33" stroke="#111" stroke-width="1.0"/>
<line x1="419.05" y1="378.43" x2="423.45" y2="378.43" stroke="#111" stroke-width="0.9"/>
<circle cx="436.50" cy="386.52" r="4.3" fill="#1414f0"/>
<path d="M432.40,385.62 A4.3,4.3 0 0 1 440.60,385.62 Z" fill="#9a0c0c"/>
<line x1="433.50" y1="383.92" x2="439.50" y2="383.92" stroke="#e81010" stroke-width="1.0"/>
<line x1="432.60" y1="385.92" x2="440.40" y2="385.92" stroke="#111" stroke-width="0.9"/>
<line x1="436.50" y1="385.92" x2="436.50" y2="390.82" stroke="#111" stroke-width="1.0"/>
<line x1="434.30" y1="388.92" x2="438.70" y2="388.92" stroke="#111" stroke-width="0.9"/>
<line x1="299.40" y1="268.30" x2="436.40" y2="393.30" stroke="#ff2020" stroke-width="1.4"/>
<text x="420.42" y="260.30" font-family="Liberation Serif" font-weight="bold" font-size="9.20" fill="#1a1a9a" stroke="#1a1a9a" stroke-width="0.22" >MOF</text>
<text x="290.74" y="387.00" font-family="Liberation Sans" font-weight="bold" font-size="6.13" fill="#111" stroke="#111" stroke-width="0.22" >y=0.04x+91</text>
<text x="297.39" y="395.70" font-family="Liberation Sans" font-weight="bold" font-size="7.14" fill="#111" stroke="#111" stroke-width="0.22" >2</text>
<text x="292.68" y="401.10" font-family="Liberation Sans" font-weight="bold" font-size="6.03" fill="#111" stroke="#111" stroke-width="0.22" >R</text>
<text x="301.16" y="401.10" font-family="Liberation Sans" font-weight="bold" font-size="6.07" fill="#111" stroke="#111" stroke-width="0.22" >=0.97</text>
<line x1="510.50" y1="243.50" x2="678.50" y2="243.50" stroke="#333" stroke-width="1.6"/>
<line x1="678.50" y1="243.50" x2="678.50" y2="418.00" stroke="#1a1a1a" stroke-width="1.3"/>
<line x1="510.50" y1="243.50" x2="510.50" y2="425.60" stroke="#1a1a1a" stroke-width="1.3"/>
<line x1="503.30" y1="418.00" x2="678.50" y2="418.00" stroke="#1a1a1a" stroke-width="1.4"/>
<line x1="503.00" y1="417.55" x2="510.50" y2="417.55" stroke="#1a1a1a" stroke-width="1.2"/>
<text x="487.70" y="419.25" font-family="Liberation Sans" font-weight="bold" font-size="10.00" fill="#111" stroke="#111" stroke-width="0.22" >40</text>
<line x1="503.00" y1="385.90" x2="510.50" y2="385.90" stroke="#1a1a1a" stroke-width="1.2"/>
<text x="487.70" y="387.60" font-family="Liberation Sans" font-weight="bold" font-size="10.00" fill="#111" stroke="#111" stroke-width="0.22" >50</text>
<line x1="503.00" y1="354.25" x2="510.50" y2="354.25" stroke="#1a1a1a" stroke-width="1.2"/>
<text x="487.70" y="355.95" font-family="Liberation Sans" font-weight="bold" font-size="10.00" fill="#111" stroke="#111" stroke-width="0.22" >60</text>
<line x1="503.00" y1="322.60" x2="510.50" y2="322.60" stroke="#1a1a1a" stroke-width="1.2"/>
<text x="487.70" y="324.30" font-family="Liberation Sans" font-weight="bold" font-size="10.00" fill="#111" stroke="#111" stroke-width="0.22" >70</text>
<line x1="503.00" y1="290.95" x2="510.50" y2="290.95" stroke="#1a1a1a" stroke-width="1.2"/>
<text x="487.70" y="292.65" font-family="Liberation Sans" font-weight="bold" font-size="10.00" fill="#111" stroke="#111" stroke-width="0.22" >80</text>
<line x1="503.00" y1="259.30" x2="510.50" y2="259.30" stroke="#1a1a1a" stroke-width="1.2"/>
<text x="487.70" y="261.00" font-family="Liberation Sans" font-weight="bold" font-size="10.00" fill="#111" stroke="#111" stroke-width="0.22" >90</text>
<line x1="510.50" y1="418.00" x2="510.50" y2="425.60" stroke="#1a1a1a" stroke-width="1.2"/>
<text x="508.04" y="437.80" font-family="Liberation Sans" font-weight="bold" font-size="9.50" fill="#111" stroke="#111" stroke-width="0.22" >0</text>
<line x1="542.50" y1="418.00" x2="542.50" y2="425.60" stroke="#1a1a1a" stroke-width="1.2"/>
<text x="534.82" y="437.80" font-family="Liberation Sans" font-weight="bold" font-size="9.50" fill="#111" stroke="#111" stroke-width="0.22" >200</text>
<line x1="574.50" y1="418.00" x2="574.50" y2="425.60" stroke="#1a1a1a" stroke-width="1.2"/>
<text x="566.91" y="437.80" font-family="Liberation Sans" font-weight="bold" font-size="9.50" fill="#111" stroke="#111" stroke-width="0.22" >400</text>
<line x1="606.50" y1="418.00" x2="606.50" y2="425.60" stroke="#1a1a1a" stroke-width="1.2"/>
<text x="598.77" y="437.80" font-family="Liberation Sans" font-weight="bold" font-size="9.50" fill="#111" stroke="#111" stroke-width="0.22" >600</text>
<line x1="638.50" y1="418.00" x2="638.50" y2="425.60" stroke="#1a1a1a" stroke-width="1.2"/>
<text x="630.82" y="437.80" font-family="Liberation Sans" font-weight="bold" font-size="9.50" fill="#111" stroke="#111" stroke-width="0.22" >800</text>
<line x1="670.50" y1="418.00" x2="670.50" y2="425.60" stroke="#1a1a1a" stroke-width="1.2"/>
<text x="660.01" y="437.80" font-family="Liberation Sans" font-weight="bold" font-size="9.50" fill="#111" stroke="#111" stroke-width="0.22" >1000</text>
<text x="549.83" y="456.10" font-family="Liberation Sans" font-weight="bold" font-size="9.15" fill="#111" stroke="#111" stroke-width="0.22" >Concentration (&#956;L)</text>
<text transform="translate(483.00,368.39) rotate(-90)" font-family="Liberation Sans" font-weight="bold" font-size="9.76" fill="#111" stroke="#111" stroke-width="0.22">Current (&#956;A)</text>
<polygon points="526.50,397.12 530.48,399.43 530.48,404.03 526.50,406.33 522.52,404.03 522.52,399.43" fill="#1f6f1f" stroke="#185818" stroke-width="0.5"/>
<line x1="522.50" y1="401.73" x2="530.50" y2="401.73" stroke="#000" stroke-width="1.2"/>
<line x1="526.50" y1="396.73" x2="526.50" y2="406.73" stroke="#000" stroke-width="1.2"/>
<polygon points="542.50,381.30 546.48,383.60 546.48,388.20 542.50,390.50 538.52,388.20 538.52,383.60" fill="#1f6f1f" stroke="#185818" stroke-width="0.5"/>
<line x1="538.50" y1="385.90" x2="546.50" y2="385.90" stroke="#000" stroke-width="1.2"/>
<line x1="542.50" y1="380.90" x2="542.50" y2="390.90" stroke="#000" stroke-width="1.2"/>
<polygon points="558.50,362.31 562.48,364.61 562.48,369.21 558.50,371.51 554.52,369.21 554.52,364.61" fill="#1f6f1f" stroke="#185818" stroke-width="0.5"/>
<line x1="554.50" y1="366.91" x2="562.50" y2="366.91" stroke="#000" stroke-width="1.2"/>
<line x1="558.50" y1="361.91" x2="558.50" y2="371.91" stroke="#000" stroke-width="1.2"/>
<polygon points="574.50,340.15 578.48,342.45 578.48,347.06 574.50,349.36 570.52,347.06 570.52,342.45" fill="#1f6f1f" stroke="#185818" stroke-width="0.5"/>
<line x1="570.50" y1="344.75" x2="578.50" y2="344.75" stroke="#000" stroke-width="1.2"/>
<line x1="574.50" y1="339.75" x2="574.50" y2="349.75" stroke="#000" stroke-width="1.2"/>
<polygon points="590.50,330.66 594.48,332.96 594.48,337.56 590.50,339.86 586.52,337.56 586.52,332.96" fill="#1f6f1f" stroke="#185818" stroke-width="0.5"/>
<line x1="586.50" y1="335.26" x2="594.50" y2="335.26" stroke="#000" stroke-width="1.2"/>
<line x1="590.50" y1="330.26" x2="590.50" y2="340.26" stroke="#000" stroke-width="1.2"/>
<polygon points="606.50,308.50 610.48,310.81 610.48,315.41 606.50,317.71 602.52,315.41 602.52,310.81" fill="#1f6f1f" stroke="#185818" stroke-width="0.5"/>
<line x1="602.50" y1="313.11" x2="610.50" y2="313.11" stroke="#000" stroke-width="1.2"/>
<line x1="606.50" y1="308.11" x2="606.50" y2="318.11" stroke="#000" stroke-width="1.2"/>
<polygon points="622.50,276.86 626.48,279.16 626.48,283.76 622.50,286.06 618.52,283.76 618.52,279.16" fill="#1f6f1f" stroke="#185818" stroke-width="0.5"/>
<line x1="618.50" y1="281.46" x2="626.50" y2="281.46" stroke="#000" stroke-width="1.2"/>
<line x1="622.50" y1="276.46" x2="622.50" y2="286.46" stroke="#000" stroke-width="1.2"/>
<polygon points="638.50,267.36 642.48,269.66 642.48,274.26 638.50,276.56 634.52,274.26 634.52,269.66" fill="#1f6f1f" stroke="#185818" stroke-width="0.5"/>
<line x1="634.50" y1="271.96" x2="642.50" y2="271.96" stroke="#000" stroke-width="1.2"/>
<line x1="638.50" y1="266.96" x2="638.50" y2="276.96" stroke="#000" stroke-width="1.2"/>
<polygon points="654.50,254.70 658.48,257.00 658.48,261.60 654.50,263.90 650.52,261.60 650.52,257.00" fill="#1f6f1f" stroke="#185818" stroke-width="0.5"/>
<line x1="650.50" y1="259.30" x2="658.50" y2="259.30" stroke="#000" stroke-width="1.2"/>
<line x1="654.50" y1="254.30" x2="654.50" y2="264.30" stroke="#000" stroke-width="1.2"/>
<line x1="526.50" y1="404.00" x2="654.50" y2="256.00" stroke="#ff2020" stroke-width="1.4"/>
<text x="518.61" y="259.40" font-family="Liberation Serif" font-weight="bold" font-size="9.43" fill="#1a1a9a" stroke="#1a1a9a" stroke-width="0.22" >MXOF</text>
<text x="621.92" y="398.60" font-family="Liberation Sans" font-weight="bold" font-size="8.01" fill="#111" stroke="#111" stroke-width="0.22" >y= 0.05x+38</text>
<text x="634.44" y="412.80" font-family="Liberation Sans" font-weight="bold" font-size="7.94" fill="#111" stroke="#111" stroke-width="0.22" >R</text>
<text x="640.90" y="406.50" font-family="Liberation Sans" font-weight="bold" font-size="3.27" fill="#111" stroke="#111" stroke-width="0.22" >2</text>
<text x="642.47" y="412.80" font-family="Liberation Sans" font-weight="bold" font-size="8.24" fill="#111" stroke="#111" stroke-width="0.22" >=0.99</text>
</svg></body></html>
